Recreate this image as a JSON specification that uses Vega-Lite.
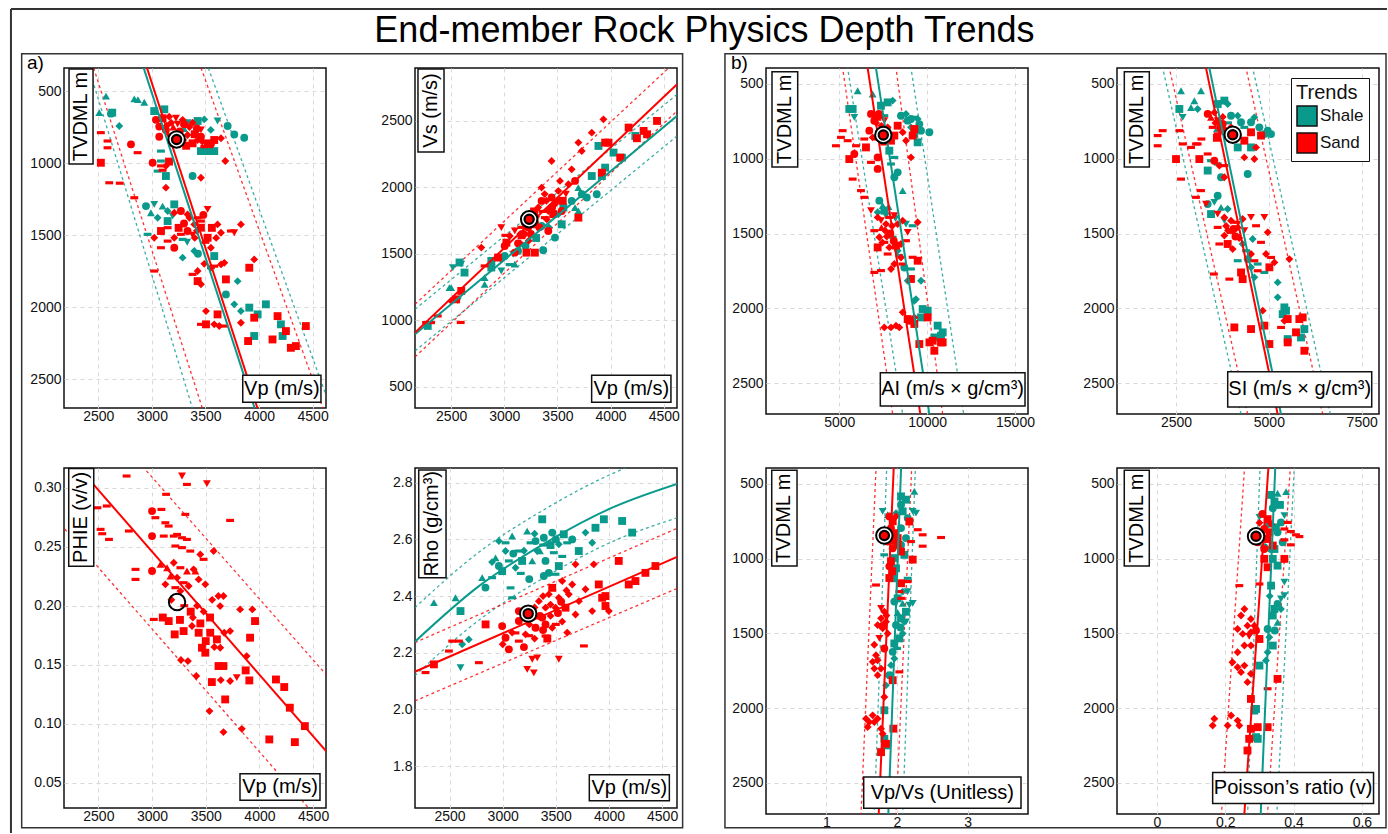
{
"$schema":"https://vega.github.io/schema/vega-lite/v6.json",
"background":"white",
"padding":{"left":9,"top":7,"right":0,"bottom":0},
"columns":4,
"spacing":{"row":54,"column":89},
"bounds":"flush",
"align":"all",
"resolve":{"scale":{"color":"independent","shape":"independent","stroke":"independent"},"legend":{"color":"independent","shape":"independent","stroke":"independent"}},
"config":{"font":"Liberation Sans","view":{"stroke":"#111","strokeWidth":1.5},
"axis":{"grid":true,"gridColor":"#d8d8d8","gridDash":[4,4],"gridWidth":1,"domain":false,"ticks":false,"labelFontSize":14,"labelColor":"#111","labelPadding":3,"labelFlush":false,"labelFont":"Liberation Sans","title":null},
"axisX":{"labelPadding":1},
"text":{"font":"Liberation Sans"}},
"datasets":{
"p1":[
{"x":2572,"y":535,"t":"Shale","w":3},{"x":2836,"y":555,"t":"Shale","w":3},{"x":2929,"y":578,"t":"Shale","w":3},{"x":2870,"y":560,"t":"Shale","w":3},{"x":2618,"y":657,"t":"Shale","w":2},{"x":2630,"y":650,"t":"Shale","w":1},{"x":2509,"y":650,"t":"Shale","w":3},{"x":2696,"y":743,"t":"Shale","w":5},{"x":3022,"y":639,"t":"Shale","w":1},{"x":3116,"y":627,"t":"Shale","w":1},{"x":3333,"y":720,"t":"Shale","w":4},{"x":3427,"y":708,"t":"Shale","w":1},{"x":3489,"y":697,"t":"Shale","w":5},{"x":3613,"y":708,"t":"Shale","w":4},{"x":3707,"y":743,"t":"Shale","w":2},{"x":3769,"y":801,"t":"Shale","w":2},{"x":3862,"y":824,"t":"Shale","w":2},{"x":3458,"y":917,"t":"Shale","w":1},{"x":3520,"y":917,"t":"Shale","w":1},{"x":3582,"y":917,"t":"Shale","w":1},{"x":3085,"y":917,"t":"Shale","w":6},{"x":3085,"y":986,"t":"Shale","w":6},{"x":3054,"y":1056,"t":"Shale","w":6},{"x":3131,"y":1090,"t":"Shale","w":1},{"x":3380,"y":1090,"t":"Shale","w":2},{"x":2945,"y":1299,"t":"Shale","w":2},{"x":3022,"y":1287,"t":"Shale","w":4},{"x":3100,"y":1299,"t":"Shale","w":3},{"x":3147,"y":1333,"t":"Shale","w":5},{"x":3209,"y":1287,"t":"Shale","w":1},{"x":3147,"y":1403,"t":"Shale","w":1},{"x":2991,"y":1345,"t":"Shale","w":3},{"x":3054,"y":1380,"t":"Shale","w":5},{"x":3194,"y":1368,"t":"Shale","w":4},{"x":2960,"y":1495,"t":"Shale","w":6},{"x":3287,"y":1530,"t":"Shale","w":6},{"x":3330,"y":1550,"t":"Shale","w":4},{"x":3396,"y":1611,"t":"Shale","w":5},{"x":3430,"y":1630,"t":"Shale","w":2},{"x":3287,"y":1657,"t":"Shale","w":5},{"x":3582,"y":1646,"t":"Shale","w":1},{"x":3551,"y":1727,"t":"Shale","w":6},{"x":3800,"y":1820,"t":"Shale","w":5},{"x":3691,"y":1912,"t":"Shale","w":2},{"x":3769,"y":1981,"t":"Shale","w":5},{"x":3831,"y":2028,"t":"Shale","w":5},{"x":3909,"y":2004,"t":"Shale","w":1},{"x":4204,"y":2120,"t":"Shale","w":1},{"x":4220,"y":2201,"t":"Shale","w":1},{"x":3955,"y":2201,"t":"Shale","w":1},{"x":4064,"y":1981,"t":"Shale","w":1},{"x":3987,"y":2051,"t":"Shale","w":1},{"x":3400,"y":800,"t":"Shale","w":2},{"x":3300,"y":760,"t":"Shale","w":3},{"x":3550,"y":770,"t":"Shale","w":5},
{"x":2524,"y":789,"t":"Sand","w":6},{"x":2586,"y":847,"t":"Sand","w":6},{"x":2586,"y":894,"t":"Sand","w":6},{"x":2524,"y":998,"t":"Sand","w":1},{"x":2602,"y":1137,"t":"Sand","w":6},{"x":2805,"y":870,"t":"Sand","w":2},{"x":2867,"y":928,"t":"Sand","w":6},{"x":3007,"y":998,"t":"Sand","w":2},{"x":3085,"y":1020,"t":"Sand","w":6},{"x":3100,"y":1050,"t":"Sand","w":6},{"x":3131,"y":1020,"t":"Sand","w":5},{"x":3160,"y":990,"t":"Sand","w":1},{"x":3038,"y":700,"t":"Sand","w":2},{"x":3069,"y":747,"t":"Sand","w":2},{"x":3100,"y":689,"t":"Sand","w":1},{"x":3162,"y":678,"t":"Sand","w":5},{"x":3225,"y":689,"t":"Sand","w":4},{"x":3287,"y":700,"t":"Sand","w":5},{"x":3131,"y":770,"t":"Sand","w":2},{"x":3162,"y":817,"t":"Sand","w":4},{"x":3194,"y":863,"t":"Sand","w":2},{"x":3287,"y":840,"t":"Sand","w":6},{"x":3333,"y":805,"t":"Sand","w":5},{"x":3380,"y":863,"t":"Sand","w":1},{"x":3427,"y":840,"t":"Sand","w":5},{"x":3458,"y":817,"t":"Sand","w":2},{"x":3489,"y":886,"t":"Sand","w":6},{"x":3520,"y":863,"t":"Sand","w":1},{"x":3582,"y":840,"t":"Sand","w":1},{"x":3645,"y":828,"t":"Sand","w":5},{"x":3458,"y":770,"t":"Sand","w":4},{"x":3069,"y":817,"t":"Sand","w":2},{"x":3240,"y":730,"t":"Sand","w":4},{"x":3350,"y":750,"t":"Sand","w":5},{"x":3260,"y":780,"t":"Sand","w":2},{"x":3200,"y":750,"t":"Sand","w":3},{"x":3400,"y":800,"t":"Sand","w":1},{"x":3180,"y":720,"t":"Sand","w":5},{"x":3300,"y":730,"t":"Sand","w":2},{"x":3380,"y":720,"t":"Sand","w":5},{"x":3420,"y":760,"t":"Sand","w":2},{"x":3250,"y":820,"t":"Sand","w":5},{"x":3320,"y":880,"t":"Sand","w":1},{"x":3210,"y":800,"t":"Sand","w":6},{"x":3140,"y":740,"t":"Sand","w":5},{"x":3470,"y":850,"t":"Sand","w":5},{"x":3550,"y":870,"t":"Sand","w":2},{"x":3685,"y":986,"t":"Sand","w":5},{"x":3458,"y":1102,"t":"Sand","w":5},{"x":3131,"y":1171,"t":"Sand","w":5},{"x":2836,"y":1241,"t":"Sand","w":6},{"x":2700,"y":1140,"t":"Sand","w":6},{"x":3209,"y":1345,"t":"Sand","w":5},{"x":3271,"y":1333,"t":"Sand","w":2},{"x":3333,"y":1357,"t":"Sand","w":5},{"x":3427,"y":1380,"t":"Sand","w":6},{"x":3520,"y":1322,"t":"Sand","w":4},{"x":3613,"y":1426,"t":"Sand","w":5},{"x":3458,"y":1449,"t":"Sand","w":1},{"x":3396,"y":1426,"t":"Sand","w":5},{"x":3333,"y":1472,"t":"Sand","w":2},{"x":3271,"y":1495,"t":"Sand","w":6},{"x":3209,"y":1519,"t":"Sand","w":5},{"x":3147,"y":1542,"t":"Sand","w":6},{"x":3085,"y":1472,"t":"Sand","w":1},{"x":3022,"y":1519,"t":"Sand","w":5},{"x":3147,"y":1449,"t":"Sand","w":6},{"x":3520,"y":1519,"t":"Sand","w":1},{"x":3645,"y":1484,"t":"Sand","w":5},{"x":3738,"y":1472,"t":"Sand","w":6},{"x":3769,"y":1484,"t":"Sand","w":4},{"x":3831,"y":1426,"t":"Sand","w":5},{"x":3458,"y":1403,"t":"Sand","w":6},{"x":3551,"y":1588,"t":"Sand","w":5},{"x":3085,"y":1588,"t":"Sand","w":6},{"x":3209,"y":1588,"t":"Sand","w":2},{"x":3380,"y":1500,"t":"Sand","w":4},{"x":3420,"y":1470,"t":"Sand","w":5},{"x":3300,"y":1420,"t":"Sand","w":2},{"x":3560,"y":1450,"t":"Sand","w":1},{"x":3350,"y":1380,"t":"Sand","w":5},{"x":3480,"y":1360,"t":"Sand","w":2},{"x":3400,"y":1520,"t":"Sand","w":5},{"x":3250,"y":1450,"t":"Sand","w":1},{"x":3500,"y":1550,"t":"Sand","w":6},{"x":3600,"y":1520,"t":"Sand","w":5},{"x":3489,"y":1700,"t":"Sand","w":5},{"x":3551,"y":1727,"t":"Sand","w":5},{"x":3582,"y":1716,"t":"Sand","w":6},{"x":3645,"y":1704,"t":"Sand","w":5},{"x":3676,"y":1693,"t":"Sand","w":5},{"x":3427,"y":1750,"t":"Sand","w":5},{"x":3380,"y":1773,"t":"Sand","w":6},{"x":3458,"y":1842,"t":"Sand","w":5},{"x":3427,"y":1820,"t":"Sand","w":1},{"x":3909,"y":1727,"t":"Sand","w":1},{"x":3955,"y":1669,"t":"Sand","w":5},{"x":3691,"y":1808,"t":"Sand","w":1},{"x":3022,"y":1750,"t":"Sand","w":6},{"x":3505,"y":2028,"t":"Sand","w":5},{"x":3613,"y":2051,"t":"Sand","w":1},{"x":3458,"y":2120,"t":"Sand","w":6},{"x":3505,"y":2120,"t":"Sand","w":1},{"x":3582,"y":2120,"t":"Sand","w":5},{"x":3629,"y":2132,"t":"Sand","w":5},{"x":3676,"y":2132,"t":"Sand","w":6},{"x":3831,"y":2109,"t":"Sand","w":5},{"x":3955,"y":2074,"t":"Sand","w":1},{"x":4173,"y":2063,"t":"Sand","w":1},{"x":4251,"y":2167,"t":"Sand","w":1},{"x":4437,"y":2132,"t":"Sand","w":1},{"x":4297,"y":2283,"t":"Sand","w":1},{"x":4344,"y":2271,"t":"Sand","w":1},{"x":3898,"y":2236,"t":"Sand","w":1},{"x":4126,"y":2225,"t":"Sand","w":1}],
"l1":[
{"x":2906,"y":300,"t":"Shale","k":"mid"},{"x":4002,"y":2800,"t":"Shale","k":"mid"},{"x":2395,"y":300,"t":"Shale","k":"lo"},{"x":3419,"y":2800,"t":"Shale","k":"lo"},{"x":3508,"y":300,"t":"Shale","k":"hi"},{"x":4716,"y":2800,"t":"Shale","k":"hi"},
{"x":2937,"y":300,"t":"Sand","k":"mid"},{"x":4028,"y":2800,"t":"Sand","k":"mid"},{"x":2440,"y":300,"t":"Sand","k":"lo"},{"x":3513,"y":2800,"t":"Sand","k":"lo"},{"x":3440,"y":300,"t":"Sand","k":"hi"},{"x":4644,"y":2800,"t":"Sand","k":"hi"}],
"p2":[
{"x":2280,"y":959,"t":"Shale","w":1},{"x":2500,"y":1247,"t":"Shale","w":3},{"x":2516,"y":1397,"t":"Shale","w":4},{"x":2595,"y":1423,"t":"Shale","w":4},{"x":2626,"y":1360,"t":"Shale","w":1},{"x":2579,"y":1436,"t":"Shale","w":1},{"x":2484,"y":1247,"t":"Shale","w":3},{"x":2563,"y":1147,"t":"Shale","w":4},{"x":2815,"y":1322,"t":"Shale","w":3},{"x":2878,"y":1448,"t":"Shale","w":1},{"x":2972,"y":1460,"t":"Shale","w":5},{"x":3004,"y":1485,"t":"Shale","w":2},{"x":3083,"y":1498,"t":"Shale","w":4},{"x":3130,"y":1523,"t":"Shale","w":2},{"x":3366,"y":1528,"t":"Shale","w":2},{"x":3477,"y":1623,"t":"Shale","w":2},{"x":3540,"y":1723,"t":"Shale","w":1},{"x":3666,"y":1849,"t":"Shale","w":3},{"x":3729,"y":1949,"t":"Shale","w":2},{"x":3776,"y":1924,"t":"Shale","w":2},{"x":3870,"y":1949,"t":"Shale","w":2},{"x":3918,"y":2086,"t":"Shale","w":1},{"x":3823,"y":2086,"t":"Shale","w":1},{"x":3949,"y":2149,"t":"Shale","w":1},{"x":4028,"y":2262,"t":"Shale","w":1},{"x":4107,"y":2224,"t":"Shale","w":1},{"x":4233,"y":2387,"t":"Shale","w":1},{"x":3886,"y":2312,"t":"Shale","w":1},{"x":3351,"y":1710,"t":"Shale","w":2},{"x":3508,"y":1798,"t":"Shale","w":5},{"x":3634,"y":1899,"t":"Shale","w":2},{"x":3697,"y":1999,"t":"Shale","w":3},{"x":3556,"y":1849,"t":"Shale","w":1},{"x":2972,"y":1372,"t":"Shale","w":4},{"x":3099,"y":1423,"t":"Shale","w":3},{"x":2878,"y":1398,"t":"Shale","w":1},{"x":3697,"y":1824,"t":"Shale","w":3},{"x":2815,"y":1272,"t":"Shale","w":3},{"x":3200,"y":1560,"t":"Shale","w":2},{"x":3300,"y":1620,"t":"Shale","w":1},{"x":3420,"y":1700,"t":"Shale","w":5},{"x":3050,"y":1420,"t":"Shale","w":6},
{"x":2264,"y":984,"t":"Sand","w":6},{"x":2311,"y":984,"t":"Sand","w":6},{"x":2374,"y":1034,"t":"Sand","w":6},{"x":2500,"y":1147,"t":"Sand","w":5},{"x":2547,"y":1159,"t":"Sand","w":1},{"x":2595,"y":1222,"t":"Sand","w":1},{"x":2590,"y":985,"t":"Sand","w":6},{"x":2784,"y":1548,"t":"Sand","w":5},{"x":2815,"y":1410,"t":"Sand","w":6},{"x":2941,"y":1473,"t":"Sand","w":1},{"x":3020,"y":1585,"t":"Sand","w":1},{"x":3052,"y":1635,"t":"Sand","w":5},{"x":3099,"y":1673,"t":"Sand","w":4},{"x":3162,"y":1623,"t":"Sand","w":6},{"x":3193,"y":1723,"t":"Sand","w":5},{"x":3225,"y":1700,"t":"Sand","w":2},{"x":3256,"y":1798,"t":"Sand","w":5},{"x":3288,"y":1723,"t":"Sand","w":1},{"x":3319,"y":1849,"t":"Sand","w":5},{"x":3351,"y":1899,"t":"Sand","w":2},{"x":3382,"y":1773,"t":"Sand","w":6},{"x":3414,"y":1823,"t":"Sand","w":5},{"x":3445,"y":1924,"t":"Sand","w":2},{"x":3477,"y":1874,"t":"Sand","w":5},{"x":3508,"y":1974,"t":"Sand","w":5},{"x":3524,"y":2049,"t":"Sand","w":5},{"x":3540,"y":1823,"t":"Sand","w":2},{"x":3445,"y":2199,"t":"Sand","w":5},{"x":3634,"y":2136,"t":"Sand","w":5},{"x":3666,"y":2049,"t":"Sand","w":2},{"x":3697,"y":2337,"t":"Sand","w":5},{"x":3729,"y":2274,"t":"Sand","w":5},{"x":3823,"y":2412,"t":"Sand","w":5},{"x":3933,"y":2512,"t":"Sand","w":5},{"x":3918,"y":2111,"t":"Sand","w":1},{"x":3949,"y":2337,"t":"Sand","w":1},{"x":3981,"y":2337,"t":"Sand","w":1},{"x":3697,"y":1773,"t":"Sand","w":1},{"x":3209,"y":1510,"t":"Sand","w":1},{"x":3288,"y":1510,"t":"Sand","w":1},{"x":3099,"y":1510,"t":"Sand","w":2},{"x":3004,"y":1560,"t":"Sand","w":2},{"x":4170,"y":2450,"t":"Sand","w":1},{"x":4248,"y":2370,"t":"Sand","w":1},{"x":4311,"y":2425,"t":"Sand","w":1},{"x":4343,"y":2400,"t":"Sand","w":1},{"x":4437,"y":2500,"t":"Sand","w":1},{"x":4091,"y":2224,"t":"Sand","w":1},{"x":3603,"y":2024,"t":"Sand","w":5},{"x":3351,"y":1999,"t":"Sand","w":5},{"x":2972,"y":1698,"t":"Sand","w":4},{"x":3010,"y":1640,"t":"Sand","w":6},{"x":3396,"y":1900,"t":"Sand","w":5},{"x":3414,"y":1673,"t":"Sand","w":2},{"x":3150,"y":1650,"t":"Sand","w":5},{"x":3250,"y":1650,"t":"Sand","w":2},{"x":3300,"y":1760,"t":"Sand","w":4},{"x":3360,"y":1820,"t":"Sand","w":6},{"x":3230,"y":1600,"t":"Sand","w":5},{"x":3130,"y":1580,"t":"Sand","w":2},{"x":3460,"y":1800,"t":"Sand","w":1},{"x":3500,"y":1900,"t":"Sand","w":5},{"x":3580,"y":1950,"t":"Sand","w":4},{"x":3160,"y":1700,"t":"Sand","w":6},{"x":3180,"y":1650,"t":"Sand","w":2},{"x":3250,"y":1720,"t":"Sand","w":5},{"x":3330,"y":1700,"t":"Sand","w":2},{"x":3400,"y":1760,"t":"Sand","w":5},{"x":3280,"y":1820,"t":"Sand","w":1},{"x":3450,"y":1850,"t":"Sand","w":2},{"x":3150,"y":1580,"t":"Sand","w":5},{"x":3380,"y":1950,"t":"Sand","w":5},{"x":3550,"y":1900,"t":"Sand","w":1},{"x":3200,"y":1780,"t":"Sand","w":6}],
"l2":[
{"x":2160,"y":896,"t":"Shale","k":"mid"},{"x":4626,"y":2538,"t":"Shale","k":"mid"},{"x":2160,"y":1084,"t":"Shale","k":"hi"},{"x":4626,"y":2700,"t":"Shale","k":"hi"},{"x":2160,"y":771,"t":"Shale","k":"lo"},{"x":4626,"y":2387,"t":"Shale","k":"lo"},
{"x":2160,"y":909,"t":"Sand","k":"mid"},{"x":4626,"y":2776,"t":"Sand","k":"mid"},{"x":2160,"y":1122,"t":"Sand","k":"hi"},{"x":4626,"y":2957,"t":"Sand","k":"hi"},{"x":2160,"y":726,"t":"Sand","k":"lo"},{"x":4626,"y":2575,"t":"Sand","k":"lo"}],
"p3":[
{"x":2300,"y":0.311,"t":"Sand","w":1},{"x":2491,"y":0.283,"t":"Sand","w":6},{"x":2578,"y":0.2845,"t":"Sand","w":6},{"x":2521,"y":0.2647,"t":"Sand","w":6},{"x":2536,"y":0.261,"t":"Sand","w":6},{"x":2599,"y":0.2562,"t":"Sand","w":6},{"x":2784,"y":0.2633,"t":"Sand","w":6},{"x":2846,"y":0.2308,"t":"Sand","w":6},{"x":2846,"y":0.2223,"t":"Sand","w":6},{"x":2763,"y":0.3099,"t":"Sand","w":6},{"x":3000,"y":0.2802,"t":"Sand","w":2},{"x":3031,"y":0.2746,"t":"Sand","w":6},{"x":3087,"y":0.2816,"t":"Sand","w":6},{"x":3000,"y":0.259,"t":"Sand","w":2},{"x":3109,"y":0.259,"t":"Sand","w":6},{"x":3124,"y":0.2703,"t":"Sand","w":6},{"x":3155,"y":0.2675,"t":"Sand","w":6},{"x":3202,"y":0.259,"t":"Sand","w":6},{"x":3233,"y":0.2604,"t":"Sand","w":6},{"x":3279,"y":0.2576,"t":"Sand","w":6},{"x":3325,"y":0.2562,"t":"Sand","w":6},{"x":3279,"y":0.3099,"t":"Sand","w":4},{"x":3325,"y":0.3028,"t":"Sand","w":6},{"x":3511,"y":0.3034,"t":"Sand","w":4},{"x":3310,"y":0.2774,"t":"Sand","w":6},{"x":3131,"y":0.2944,"t":"Sand","w":6},{"x":3279,"y":0.2492,"t":"Sand","w":6},{"x":3217,"y":0.2506,"t":"Sand","w":6},{"x":3356,"y":0.2463,"t":"Sand","w":6},{"x":3449,"y":0.2435,"t":"Sand","w":5},{"x":3480,"y":0.2393,"t":"Sand","w":6},{"x":3573,"y":0.2463,"t":"Sand","w":5},{"x":3727,"y":0.2723,"t":"Sand","w":6},{"x":3000,"y":0.2294,"t":"Sand","w":2},{"x":3078,"y":0.235,"t":"Sand","w":3},{"x":3140,"y":0.2322,"t":"Sand","w":3},{"x":3202,"y":0.2364,"t":"Sand","w":5},{"x":3264,"y":0.2322,"t":"Sand","w":6},{"x":3325,"y":0.2294,"t":"Sand","w":3},{"x":3387,"y":0.2308,"t":"Sand","w":5},{"x":3171,"y":0.2251,"t":"Sand","w":3},{"x":3233,"y":0.2237,"t":"Sand","w":5},{"x":3295,"y":0.2195,"t":"Sand","w":6},{"x":3341,"y":0.2167,"t":"Sand","w":5},{"x":3403,"y":0.2294,"t":"Sand","w":3},{"x":3434,"y":0.2223,"t":"Sand","w":5},{"x":3496,"y":0.2181,"t":"Sand","w":5},{"x":3124,"y":0.2181,"t":"Sand","w":5},{"x":3217,"y":0.2153,"t":"Sand","w":6},{"x":3264,"y":0.2124,"t":"Sand","w":5},
{"x":3016,"y":0.1884,"t":"Sand","w":6},{"x":3155,"y":0.187,"t":"Sand","w":1},{"x":3211,"y":0.1757,"t":"Sand","w":1},{"x":3294,"y":0.1785,"t":"Sand","w":1},{"x":3372,"y":0.1828,"t":"Sand","w":5},{"x":3434,"y":0.1771,"t":"Sand","w":1},{"x":3465,"y":0.1644,"t":"Sand","w":1},{"x":3496,"y":0.1602,"t":"Sand","w":1},{"x":3542,"y":0.1771,"t":"Sand","w":1},{"x":3604,"y":0.1715,"t":"Sand","w":1},{"x":3635,"y":0.1644,"t":"Sand","w":5},{"x":3672,"y":0.1771,"t":"Sand","w":5},{"x":3727,"y":0.1785,"t":"Sand","w":5},{"x":3634,"y":0.1997,"t":"Sand","w":5},{"x":3618,"y":0.2082,"t":"Sand","w":5},{"x":3665,"y":0.2082,"t":"Sand","w":5},{"x":3820,"y":0.1969,"t":"Sand","w":5},{"x":3934,"y":0.1969,"t":"Sand","w":5},{"x":3959,"y":0.187,"t":"Sand","w":1},{"x":3913,"y":0.1729,"t":"Sand","w":1},{"x":3881,"y":0.1573,"t":"Sand","w":5},{"x":3872,"y":0.1452,"t":"Sand","w":1},{"x":3906,"y":0.1367,"t":"Sand","w":1},{"x":3789,"y":0.139,"t":"Sand","w":4},{"x":3727,"y":0.1362,"t":"Sand","w":5},{"x":3619,"y":0.1489,"t":"Sand","w":1},{"x":3665,"y":0.1489,"t":"Sand","w":1},{"x":3557,"y":0.1353,"t":"Sand","w":1},{"x":3640,"y":0.137,"t":"Sand","w":5},{"x":3535,"y":0.1107,"t":"Sand","w":5},{"x":3681,"y":0.1206,"t":"Sand","w":1},{"x":3665,"y":0.0929,"t":"Sand","w":5},{"x":3836,"y":0.0957,"t":"Sand","w":5},{"x":4092,"y":0.0867,"t":"Sand","w":1},{"x":4330,"y":0.0844,"t":"Sand","w":1},{"x":4154,"y":0.1375,"t":"Sand","w":1},{"x":4231,"y":0.1311,"t":"Sand","w":1},{"x":4283,"y":0.1136,"t":"Sand","w":1},{"x":4423,"y":0.098,"t":"Sand","w":1},{"x":3412,"y":0.1404,"t":"Sand","w":5},{"x":3334,"y":0.1531,"t":"Sand","w":5},{"x":3269,"y":0.154,"t":"Sand","w":5},{"x":3360,"y":0.195,"t":"Sand","w":1},{"x":3420,"y":0.2,"t":"Sand","w":5},{"x":3480,"y":0.195,"t":"Sand","w":5},{"x":3540,"y":0.19,"t":"Sand","w":1},{"x":3300,"y":0.2,"t":"Sand","w":6},{"x":3180,"y":0.205,"t":"Sand","w":5},{"x":3380,"y":0.19,"t":"Sand","w":5},{"x":3450,"y":0.185,"t":"Sand","w":1},{"x":3500,"y":0.17,"t":"Sand","w":1},{"x":3580,"y":0.165,"t":"Sand","w":5},{"x":3100,"y":0.19,"t":"Sand","w":1},{"x":3560,"y":0.205,"t":"Sand","w":5},{"x":3260,"y":0.188,"t":"Sand","w":1}],
"l3":[
{"x":2200,"y":0.3293,"t":"Sand","k":"mid"},{"x":4650,"y":0.0738,"t":"Sand","k":"mid"},{"x":2800,"y":0.3295,"t":"Sand","k":"hi"},{"x":4650,"y":0.1387,"t":"Sand","k":"hi"},{"x":2150,"y":0.2688,"t":"Sand","k":"lo"},{"x":4650,"y":0.0086,"t":"Sand","k":"lo"}],
"p4":[
{"x":2353,"y":2.377,"t":"Shale","w":3},{"x":2556,"y":2.394,"t":"Shale","w":3},{"x":2603,"y":2.347,"t":"Shale","w":1},{"x":2603,"y":2.147,"t":"Shale","w":4},{"x":2619,"y":2.23,"t":"Shale","w":5},{"x":2681,"y":2.247,"t":"Shale","w":5},{"x":2807,"y":2.465,"t":"Shale","w":3},{"x":2838,"y":2.43,"t":"Shale","w":2},{"x":2901,"y":2.465,"t":"Shale","w":6},{"x":2933,"y":2.535,"t":"Shale","w":3},{"x":2964,"y":2.506,"t":"Shale","w":2},{"x":2995,"y":2.488,"t":"Shale","w":1},{"x":3027,"y":2.559,"t":"Shale","w":5},{"x":3058,"y":2.524,"t":"Shale","w":6},{"x":3074,"y":2.429,"t":"Shale","w":6},{"x":3121,"y":2.5,"t":"Shale","w":5},{"x":3152,"y":2.559,"t":"Shale","w":6},{"x":3183,"y":2.524,"t":"Shale","w":1},{"x":3230,"y":2.629,"t":"Shale","w":3},{"x":3262,"y":2.588,"t":"Shale","w":6},{"x":3278,"y":2.524,"t":"Shale","w":3},{"x":3309,"y":2.594,"t":"Shale","w":2},{"x":3325,"y":2.559,"t":"Shale","w":5},{"x":3372,"y":2.671,"t":"Shale","w":1},{"x":3387,"y":2.606,"t":"Shale","w":2},{"x":3403,"y":2.524,"t":"Shale","w":2},{"x":3434,"y":2.482,"t":"Shale","w":2},{"x":3466,"y":2.624,"t":"Shale","w":2},{"x":3481,"y":2.553,"t":"Shale","w":6},{"x":3528,"y":2.583,"t":"Shale","w":5},{"x":3528,"y":2.506,"t":"Shale","w":1},{"x":3575,"y":2.618,"t":"Shale","w":1},{"x":3607,"y":2.588,"t":"Shale","w":6},{"x":3654,"y":2.6,"t":"Shale","w":2},{"x":3716,"y":2.559,"t":"Shale","w":1},{"x":3779,"y":2.624,"t":"Shale","w":5},{"x":3842,"y":2.588,"t":"Shale","w":5},{"x":3873,"y":2.641,"t":"Shale","w":1},{"x":3952,"y":2.671,"t":"Shale","w":1},{"x":4124,"y":2.665,"t":"Shale","w":1},{"x":4218,"y":2.624,"t":"Shale","w":1},{"x":3089,"y":2.394,"t":"Shale","w":6},{"x":3387,"y":2.471,"t":"Shale","w":2},{"x":3497,"y":2.477,"t":"Shale","w":6},{"x":2964,"y":2.594,"t":"Shale","w":5},{"x":3027,"y":2.588,"t":"Shale","w":6},{"x":3089,"y":2.612,"t":"Shale","w":3},{"x":3200,"y":2.56,"t":"Shale","w":5},{"x":3350,"y":2.56,"t":"Shale","w":3},{"x":3450,"y":2.58,"t":"Shale","w":1},{"x":3560,"y":2.54,"t":"Shale","w":6},{"x":2900,"y":2.52,"t":"Shale","w":5},{"x":3170,"y":2.48,"t":"Shale","w":6},{"x":3250,"y":2.46,"t":"Shale","w":2},{"x":3100,"y":2.55,"t":"Shale","w":2},{"x":3300,"y":2.62,"t":"Shale","w":5},{"x":3500,"y":2.6,"t":"Shale","w":2},{"x":3380,"y":2.58,"t":"Shale","w":6},
{"x":2274,"y":2.13,"t":"Sand","w":6},{"x":2353,"y":2.159,"t":"Sand","w":1},{"x":2494,"y":2.206,"t":"Sand","w":6},{"x":2525,"y":2.241,"t":"Sand","w":6},{"x":2588,"y":2.241,"t":"Sand","w":6},{"x":2776,"y":2.165,"t":"Sand","w":6},{"x":2839,"y":2.3,"t":"Sand","w":1},{"x":2995,"y":2.294,"t":"Sand","w":2},{"x":3027,"y":2.253,"t":"Sand","w":2},{"x":3089,"y":2.271,"t":"Sand","w":5},{"x":3152,"y":2.312,"t":"Sand","w":2},{"x":3215,"y":2.265,"t":"Sand","w":5},{"x":3262,"y":2.347,"t":"Sand","w":1},{"x":3309,"y":2.288,"t":"Sand","w":2},{"x":3340,"y":2.382,"t":"Sand","w":5},{"x":3372,"y":2.324,"t":"Sand","w":2},{"x":3403,"y":2.359,"t":"Sand","w":5},{"x":3434,"y":2.406,"t":"Sand","w":5},{"x":3466,"y":2.429,"t":"Sand","w":1},{"x":3497,"y":2.359,"t":"Sand","w":5},{"x":3528,"y":2.394,"t":"Sand","w":5},{"x":3560,"y":2.453,"t":"Sand","w":5},{"x":3591,"y":2.359,"t":"Sand","w":1},{"x":3622,"y":2.406,"t":"Sand","w":5},{"x":3654,"y":2.441,"t":"Sand","w":5},{"x":3685,"y":2.512,"t":"Sand","w":5},{"x":3717,"y":2.382,"t":"Sand","w":5},{"x":3779,"y":2.424,"t":"Sand","w":5},{"x":3857,"y":2.512,"t":"Sand","w":5},{"x":3904,"y":2.441,"t":"Sand","w":1},{"x":3936,"y":2.394,"t":"Sand","w":1},{"x":3967,"y":2.365,"t":"Sand","w":1},{"x":3999,"y":2.347,"t":"Sand","w":5},{"x":3842,"y":2.347,"t":"Sand","w":5},{"x":3764,"y":2.224,"t":"Sand","w":6},{"x":3607,"y":2.271,"t":"Sand","w":5},{"x":3403,"y":2.259,"t":"Sand","w":6},{"x":3278,"y":2.177,"t":"Sand","w":4},{"x":3325,"y":2.182,"t":"Sand","w":4},{"x":3231,"y":2.141,"t":"Sand","w":4},{"x":3293,"y":2.129,"t":"Sand","w":4},{"x":3528,"y":2.177,"t":"Sand","w":4},{"x":3685,"y":2.335,"t":"Sand","w":5},{"x":4092,"y":2.524,"t":"Sand","w":1},{"x":4186,"y":2.441,"t":"Sand","w":1},{"x":4249,"y":2.453,"t":"Sand","w":1},{"x":4343,"y":2.482,"t":"Sand","w":1},{"x":4437,"y":2.506,"t":"Sand","w":1},{"x":3967,"y":2.4,"t":"Sand","w":1},{"x":3403,"y":2.3,"t":"Sand","w":2},{"x":3466,"y":2.288,"t":"Sand","w":5},{"x":3152,"y":2.241,"t":"Sand","w":6},{"x":3058,"y":2.212,"t":"Sand","w":2},{"x":3152,"y":2.347,"t":"Sand","w":2},{"x":3250,"y":2.3,"t":"Sand","w":5},{"x":3350,"y":2.33,"t":"Sand","w":2},{"x":3450,"y":2.33,"t":"Sand","w":5},{"x":3500,"y":2.3,"t":"Sand","w":6},{"x":3300,"y":2.25,"t":"Sand","w":5},{"x":3200,"y":2.22,"t":"Sand","w":2},{"x":3550,"y":2.38,"t":"Sand","w":2},{"x":3380,"y":2.4,"t":"Sand","w":5},{"x":3120,"y":2.27,"t":"Sand","w":6},{"x":3000,"y":2.23,"t":"Sand","w":5},{"x":3300,"y":2.36,"t":"Sand","w":5},{"x":3380,"y":2.28,"t":"Sand","w":2},{"x":3450,"y":2.37,"t":"Sand","w":5},{"x":3520,"y":2.34,"t":"Sand","w":2},{"x":3600,"y":2.42,"t":"Sand","w":5},{"x":3250,"y":2.26,"t":"Sand","w":6},{"x":3420,"y":2.25,"t":"Sand","w":1},{"x":3560,"y":2.31,"t":"Sand","w":5}],
"l4":[
{"x":2174,"y":2.239,"t":"Shale","k":"mid"},{"x":2776,"y":2.435,"t":"Shale","k":"mid"},{"x":3403,"y":2.588,"t":"Shale","k":"mid"},{"x":4030,"y":2.712,"t":"Shale","k":"mid"},{"x":4641,"y":2.796,"t":"Shale","k":"mid"},
{"x":2174,"y":2.359,"t":"Shale","k":"hi"},{"x":2776,"y":2.555,"t":"Shale","k":"hi"},{"x":3403,"y":2.708,"t":"Shale","k":"hi"},{"x":4030,"y":2.832,"t":"Shale","k":"hi"},{"x":4641,"y":2.916,"t":"Shale","k":"hi"},
{"x":2174,"y":2.119,"t":"Shale","k":"lo"},{"x":2776,"y":2.315,"t":"Shale","k":"lo"},{"x":3403,"y":2.468,"t":"Shale","k":"lo"},{"x":4030,"y":2.592,"t":"Shale","k":"lo"},{"x":4641,"y":2.676,"t":"Shale","k":"lo"},
{"x":2174,"y":2.133,"t":"Sand","k":"mid"},{"x":4641,"y":2.538,"t":"Sand","k":"mid"},{"x":2174,"y":2.236,"t":"Sand","k":"hi"},{"x":4641,"y":2.639,"t":"Sand","k":"hi"},{"x":2174,"y":2.03,"t":"Sand","k":"lo"},{"x":4641,"y":2.427,"t":"Sand","k":"lo"}],
"p5":[
{"x":6044,"y":545,"t":"Shale","w":3},{"x":6898,"y":567,"t":"Shale","w":3},{"x":5760,"y":667,"t":"Shale","w":1},{"x":5855,"y":723,"t":"Shale","w":4},{"x":5570,"y":667,"t":"Shale","w":1},{"x":7373,"y":645,"t":"Shale","w":1},{"x":7752,"y":623,"t":"Shale","w":1},{"x":8037,"y":611,"t":"Shale","w":5},{"x":7563,"y":712,"t":"Shale","w":6},{"x":8511,"y":712,"t":"Shale","w":2},{"x":8796,"y":700,"t":"Shale","w":5},{"x":8891,"y":745,"t":"Shale","w":2},{"x":9080,"y":734,"t":"Shale","w":2},{"x":9460,"y":734,"t":"Shale","w":5},{"x":9555,"y":768,"t":"Shale","w":2},{"x":9650,"y":812,"t":"Shale","w":2},{"x":9270,"y":723,"t":"Shale","w":6},{"x":10125,"y":823,"t":"Shale","w":2},{"x":9080,"y":790,"t":"Shale","w":5},{"x":9270,"y":835,"t":"Shale","w":1},{"x":9460,"y":890,"t":"Shale","w":1},{"x":8132,"y":991,"t":"Shale","w":6},{"x":7942,"y":1035,"t":"Shale","w":6},{"x":7847,"y":946,"t":"Shale","w":1},{"x":8322,"y":1091,"t":"Shale","w":2},{"x":7278,"y":1280,"t":"Shale","w":2},{"x":7468,"y":1314,"t":"Shale","w":3},{"x":7563,"y":1347,"t":"Shale","w":1},{"x":7183,"y":1358,"t":"Shale","w":5},{"x":7657,"y":1381,"t":"Shale","w":4},{"x":8037,"y":1525,"t":"Shale","w":6},{"x":8322,"y":1615,"t":"Shale","w":5},{"x":8416,"y":1648,"t":"Shale","w":6},{"x":8701,"y":1727,"t":"Shale","w":2},{"x":8891,"y":1816,"t":"Shale","w":5},{"x":9080,"y":1737,"t":"Shale","w":6},{"x":9650,"y":1816,"t":"Shale","w":5},{"x":9270,"y":1950,"t":"Shale","w":5},{"x":9365,"y":1939,"t":"Shale","w":5},{"x":9650,"y":2061,"t":"Shale","w":1},{"x":9745,"y":2005,"t":"Shale","w":1},{"x":10030,"y":2016,"t":"Shale","w":1},{"x":10599,"y":2116,"t":"Shale","w":1},{"x":10789,"y":2183,"t":"Shale","w":1},{"x":10884,"y":2161,"t":"Shale","w":1},{"x":10409,"y":2195,"t":"Shale","w":1},{"x":8132,"y":1124,"t":"Shale","w":2},{"x":8606,"y":1213,"t":"Shale","w":3},{"x":8796,"y":1437,"t":"Shale","w":4},{"x":9175,"y":1448,"t":"Shale","w":6},{"x":7800,"y":1320,"t":"Shale","w":3},{"x":8200,"y":1400,"t":"Shale","w":4},
{"x":6803,"y":700,"t":"Sand","w":2},{"x":6993,"y":745,"t":"Sand","w":2},{"x":7183,"y":723,"t":"Sand","w":3},{"x":7373,"y":712,"t":"Sand","w":5},{"x":7563,"y":745,"t":"Sand","w":4},{"x":6708,"y":812,"t":"Sand","w":2},{"x":6898,"y":857,"t":"Sand","w":5},{"x":7183,"y":868,"t":"Sand","w":6},{"x":7752,"y":790,"t":"Sand","w":5},{"x":7942,"y":879,"t":"Sand","w":1},{"x":7562,"y":901,"t":"Sand","w":6},{"x":8132,"y":845,"t":"Sand","w":1},{"x":8322,"y":779,"t":"Sand","w":1},{"x":8606,"y":823,"t":"Sand","w":5},{"x":8796,"y":879,"t":"Sand","w":5},{"x":9175,"y":845,"t":"Sand","w":1},{"x":9270,"y":801,"t":"Sand","w":1},{"x":7100,"y":760,"t":"Sand","w":5},{"x":7300,"y":820,"t":"Sand","w":2},{"x":7450,"y":880,"t":"Sand","w":5},{"x":7600,"y":850,"t":"Sand","w":1},{"x":7250,"y":700,"t":"Sand","w":2},{"x":5190,"y":812,"t":"Sand","w":6},{"x":4810,"y":913,"t":"Sand","w":6},{"x":5095,"y":857,"t":"Sand","w":6},{"x":5475,"y":879,"t":"Sand","w":6},{"x":5855,"y":968,"t":"Sand","w":2},{"x":5950,"y":913,"t":"Sand","w":6},{"x":6518,"y":924,"t":"Sand","w":1},{"x":6423,"y":868,"t":"Sand","w":6},{"x":5570,"y":1002,"t":"Sand","w":1},{"x":7183,"y":991,"t":"Sand","w":2},{"x":6803,"y":1024,"t":"Sand","w":6},{"x":7183,"y":1068,"t":"Sand","w":2},{"x":9080,"y":991,"t":"Sand","w":5},{"x":5760,"y":1136,"t":"Sand","w":6},{"x":6234,"y":1213,"t":"Sand","w":6},{"x":6423,"y":1258,"t":"Sand","w":6},{"x":6803,"y":1347,"t":"Sand","w":4},{"x":7183,"y":1392,"t":"Sand","w":5},{"x":7373,"y":1414,"t":"Sand","w":4},{"x":7657,"y":1437,"t":"Sand","w":5},{"x":7847,"y":1392,"t":"Sand","w":6},{"x":8132,"y":1381,"t":"Sand","w":4},{"x":8322,"y":1437,"t":"Sand","w":5},{"x":8606,"y":1414,"t":"Sand","w":5},{"x":8891,"y":1492,"t":"Sand","w":4},{"x":9460,"y":1425,"t":"Sand","w":5},{"x":6993,"y":1481,"t":"Sand","w":6},{"x":7278,"y":1525,"t":"Sand","w":5},{"x":7562,"y":1559,"t":"Sand","w":6},{"x":7847,"y":1593,"t":"Sand","w":5},{"x":8227,"y":1581,"t":"Sand","w":1},{"x":8511,"y":1570,"t":"Sand","w":5},{"x":8796,"y":1548,"t":"Sand","w":6},{"x":7183,"y":1593,"t":"Sand","w":1},{"x":7752,"y":1637,"t":"Sand","w":6},{"x":7942,"y":1737,"t":"Sand","w":5},{"x":8132,"y":1704,"t":"Sand","w":5},{"x":7373,"y":1748,"t":"Sand","w":6},{"x":8511,"y":1660,"t":"Sand","w":5},{"x":8606,"y":1704,"t":"Sand","w":6},{"x":9175,"y":1659,"t":"Sand","w":6},{"x":9460,"y":1682,"t":"Sand","w":1},{"x":9080,"y":1804,"t":"Sand","w":1},{"x":6993,"y":1760,"t":"Sand","w":6},{"x":8606,"y":2027,"t":"Sand","w":5},{"x":8891,"y":2072,"t":"Sand","w":1},{"x":9270,"y":2061,"t":"Sand","w":5},{"x":8227,"y":2116,"t":"Sand","w":5},{"x":8416,"y":2128,"t":"Sand","w":5},{"x":7562,"y":2128,"t":"Sand","w":5},{"x":7942,"y":2128,"t":"Sand","w":5},{"x":9080,"y":2083,"t":"Sand","w":1},{"x":9270,"y":2105,"t":"Sand","w":1},{"x":9555,"y":2239,"t":"Sand","w":1},{"x":10030,"y":2061,"t":"Sand","w":1},{"x":10789,"y":2228,"t":"Sand","w":1},{"x":10884,"y":2228,"t":"Sand","w":1},{"x":10409,"y":2284,"t":"Sand","w":1},{"x":10314,"y":2217,"t":"Sand","w":1},{"x":10130,"y":2228,"t":"Sand","w":1},{"x":7600,"y":1480,"t":"Sand","w":5},{"x":7900,"y":1500,"t":"Sand","w":2},{"x":7400,"y":1460,"t":"Sand","w":3},{"x":8000,"y":1450,"t":"Sand","w":5},{"x":7700,"y":1520,"t":"Sand","w":5},{"x":8100,"y":1550,"t":"Sand","w":2},{"x":7450,"y":1560,"t":"Sand","w":5},{"x":7700,"y":800,"t":"Sand","w":2},{"x":7400,"y":780,"t":"Sand","w":5}],
"l5":[
{"x":6966,"y":300,"t":"Shale","k":"mid"},{"x":10246,"y":2800,"t":"Shale","k":"mid"},{"x":5349,"y":300,"t":"Shale","k":"lo"},{"x":8730,"y":2800,"t":"Shale","k":"lo"},{"x":8961,"y":300,"t":"Shale","k":"hi"},{"x":12199,"y":2800,"t":"Shale","k":"hi"},
{"x":6493,"y":300,"t":"Sand","k":"mid"},{"x":9731,"y":2800,"t":"Sand","k":"mid"},{"x":5076,"y":300,"t":"Sand","k":"lo"},{"x":8150,"y":2800,"t":"Sand","k":"lo"},{"x":8120,"y":300,"t":"Sand","k":"hi"},{"x":10990,"y":2800,"t":"Sand","k":"hi"}],
"p6":[
{"x":2635,"y":545,"t":"Shale","w":3},{"x":3173,"y":545,"t":"Shale","w":3},{"x":2590,"y":667,"t":"Shale","w":1},{"x":2680,"y":723,"t":"Shale","w":4},{"x":3083,"y":667,"t":"Shale","w":5},{"x":2904,"y":657,"t":"Shale","w":3},{"x":2994,"y":612,"t":"Shale","w":3},{"x":3622,"y":634,"t":"Shale","w":1},{"x":3802,"y":611,"t":"Shale","w":1},{"x":3892,"y":634,"t":"Shale","w":5},{"x":3981,"y":712,"t":"Shale","w":2},{"x":4161,"y":712,"t":"Shale","w":5},{"x":4251,"y":756,"t":"Shale","w":2},{"x":4340,"y":790,"t":"Shale","w":6},{"x":4520,"y":756,"t":"Shale","w":2},{"x":4610,"y":723,"t":"Shale","w":5},{"x":4744,"y":790,"t":"Shale","w":2},{"x":4879,"y":835,"t":"Shale","w":2},{"x":4969,"y":812,"t":"Shale","w":2},{"x":5059,"y":835,"t":"Shale","w":2},{"x":4520,"y":924,"t":"Shale","w":1},{"x":4161,"y":924,"t":"Shale","w":1},{"x":3443,"y":1013,"t":"Shale","w":6},{"x":3622,"y":1035,"t":"Shale","w":6},{"x":3353,"y":1079,"t":"Shale","w":1},{"x":3712,"y":1124,"t":"Shale","w":2},{"x":4430,"y":1102,"t":"Shale","w":2},{"x":3353,"y":1303,"t":"Shale","w":2},{"x":3532,"y":1292,"t":"Shale","w":4},{"x":3712,"y":1325,"t":"Shale","w":3},{"x":3443,"y":1370,"t":"Shale","w":1},{"x":3892,"y":1336,"t":"Shale","w":5},{"x":3802,"y":1414,"t":"Shale","w":4},{"x":4116,"y":1514,"t":"Shale","w":6},{"x":4295,"y":1570,"t":"Shale","w":5},{"x":4385,"y":1615,"t":"Shale","w":6},{"x":4430,"y":1671,"t":"Shale","w":2},{"x":4520,"y":1726,"t":"Shale","w":5},{"x":4699,"y":1704,"t":"Shale","w":6},{"x":4610,"y":1793,"t":"Shale","w":5},{"x":4879,"y":1760,"t":"Shale","w":6},{"x":5238,"y":1827,"t":"Shale","w":5},{"x":5238,"y":1927,"t":"Shale","w":5},{"x":5418,"y":1994,"t":"Shale","w":1},{"x":5462,"y":2016,"t":"Shale","w":1},{"x":5373,"y":2039,"t":"Shale","w":1},{"x":5956,"y":2139,"t":"Shale","w":1},{"x":5507,"y":2206,"t":"Shale","w":1},{"x":5866,"y":2195,"t":"Shale","w":1},{"x":3622,"y":1247,"t":"Shale","w":2},{"x":4161,"y":1682,"t":"Shale","w":6},{"x":4565,"y":1537,"t":"Shale","w":5},{"x":3600,"y":800,"t":"Shale","w":3},{"x":3900,"y":760,"t":"Shale","w":6},
{"x":3353,"y":700,"t":"Sand","w":2},{"x":3443,"y":723,"t":"Sand","w":3},{"x":3532,"y":690,"t":"Sand","w":5},{"x":3622,"y":745,"t":"Sand","w":4},{"x":3757,"y":767,"t":"Sand","w":2},{"x":3488,"y":790,"t":"Sand","w":6},{"x":3622,"y":834,"t":"Sand","w":6},{"x":3802,"y":812,"t":"Sand","w":2},{"x":3981,"y":790,"t":"Sand","w":5},{"x":4026,"y":868,"t":"Sand","w":1},{"x":4161,"y":834,"t":"Sand","w":5},{"x":4340,"y":879,"t":"Sand","w":1},{"x":4520,"y":823,"t":"Sand","w":1},{"x":4789,"y":845,"t":"Sand","w":1},{"x":4655,"y":924,"t":"Sand","w":5},{"x":3560,"y":760,"t":"Sand","w":5},{"x":3700,"y":800,"t":"Sand","w":2},{"x":3760,"y":720,"t":"Sand","w":5},{"x":3600,"y":860,"t":"Sand","w":1},{"x":3183,"y":868,"t":"Sand","w":6},{"x":3038,"y":901,"t":"Sand","w":6},{"x":2904,"y":924,"t":"Sand","w":6},{"x":3083,"y":901,"t":"Sand","w":6},{"x":2680,"y":901,"t":"Sand","w":6},{"x":2590,"y":812,"t":"Sand","w":6},{"x":2141,"y":812,"t":"Sand","w":6},{"x":2006,"y":845,"t":"Sand","w":6},{"x":2006,"y":913,"t":"Sand","w":6},{"x":2500,"y":1002,"t":"Sand","w":1},{"x":3128,"y":1002,"t":"Sand","w":1},{"x":3353,"y":968,"t":"Sand","w":6},{"x":3532,"y":1013,"t":"Sand","w":2},{"x":3667,"y":1046,"t":"Sand","w":5},{"x":3802,"y":1046,"t":"Sand","w":6},{"x":3802,"y":1124,"t":"Sand","w":5},{"x":4340,"y":991,"t":"Sand","w":5},{"x":4610,"y":1002,"t":"Sand","w":5},{"x":2635,"y":1136,"t":"Sand","w":6},{"x":3173,"y":1213,"t":"Sand","w":6},{"x":3038,"y":1258,"t":"Sand","w":6},{"x":3308,"y":1303,"t":"Sand","w":4},{"x":3622,"y":1370,"t":"Sand","w":4},{"x":3802,"y":1392,"t":"Sand","w":5},{"x":3981,"y":1414,"t":"Sand","w":5},{"x":4116,"y":1425,"t":"Sand","w":6},{"x":4295,"y":1403,"t":"Sand","w":5},{"x":4520,"y":1392,"t":"Sand","w":4},{"x":4655,"y":1448,"t":"Sand","w":6},{"x":4879,"y":1392,"t":"Sand","w":4},{"x":4969,"y":1492,"t":"Sand","w":5},{"x":3622,"y":1459,"t":"Sand","w":6},{"x":3802,"y":1514,"t":"Sand","w":5},{"x":3981,"y":1492,"t":"Sand","w":6},{"x":4161,"y":1459,"t":"Sand","w":5},{"x":4340,"y":1481,"t":"Sand","w":4},{"x":3850,"y":1450,"t":"Sand","w":5},{"x":4050,"y":1470,"t":"Sand","w":2},{"x":4200,"y":1530,"t":"Sand","w":5},{"x":3892,"y":1570,"t":"Sand","w":1},{"x":4026,"y":1604,"t":"Sand","w":5},{"x":3667,"y":1570,"t":"Sand","w":6},{"x":4520,"y":1637,"t":"Sand","w":5},{"x":4610,"y":1682,"t":"Sand","w":6},{"x":4789,"y":1559,"t":"Sand","w":6},{"x":4924,"y":1637,"t":"Sand","w":5},{"x":5059,"y":1660,"t":"Sand","w":6},{"x":5149,"y":1693,"t":"Sand","w":5},{"x":5552,"y":1671,"t":"Sand","w":5},{"x":5014,"y":1726,"t":"Sand","w":1},{"x":4699,"y":1749,"t":"Sand","w":6},{"x":4251,"y":1760,"t":"Sand","w":1},{"x":4295,"y":1805,"t":"Sand","w":1},{"x":3520,"y":1771,"t":"Sand","w":6},{"x":3936,"y":1805,"t":"Sand","w":6},{"x":4879,"y":2116,"t":"Sand","w":1},{"x":4834,"y":2016,"t":"Sand","w":5},{"x":5418,"y":2083,"t":"Sand","w":5},{"x":5507,"y":2072,"t":"Sand","w":1},{"x":5821,"y":2072,"t":"Sand","w":1},{"x":5911,"y":2061,"t":"Sand","w":1},{"x":5328,"y":2128,"t":"Sand","w":6},{"x":4520,"y":2139,"t":"Sand","w":1},{"x":4071,"y":2128,"t":"Sand","w":1},{"x":5731,"y":2161,"t":"Sand","w":1},{"x":5507,"y":2228,"t":"Sand","w":1},{"x":5956,"y":2284,"t":"Sand","w":1},{"x":5014,"y":2239,"t":"Sand","w":1},{"x":3900,"y":1480,"t":"Sand","w":5},{"x":4100,"y":1520,"t":"Sand","w":2},{"x":3700,"y":760,"t":"Sand","w":5},{"x":3850,"y":820,"t":"Sand","w":2}],
"l6":[
{"x":3320,"y":300,"t":"Shale","k":"mid"},{"x":5404,"y":2800,"t":"Shale","k":"mid"},{"x":2056,"y":300,"t":"Shale","k":"lo"},{"x":4334,"y":2800,"t":"Shale","k":"lo"},{"x":4481,"y":300,"t":"Shale","k":"hi"},{"x":6739,"y":2800,"t":"Shale","k":"hi"},
{"x":3230,"y":300,"t":"Sand","k":"mid"},{"x":5314,"y":2800,"t":"Sand","k":"mid"},{"x":2235,"y":300,"t":"Sand","k":"lo"},{"x":4514,"y":2800,"t":"Sand","k":"lo"},{"x":4302,"y":300,"t":"Sand","k":"hi"},{"x":6532,"y":2800,"t":"Sand","k":"hi"}],
"p7":[
{"x":2.057,"y":583,"t":"Shale","w":1},{"x":2.127,"y":605,"t":"Shale","w":1},{"x":2.245,"y":549,"t":"Shale","w":3},{"x":2.222,"y":683,"t":"Shale","w":4},{"x":2.057,"y":639,"t":"Shale","w":2},{"x":2.08,"y":683,"t":"Shale","w":1},{"x":2.151,"y":728,"t":"Shale","w":2},{"x":1.986,"y":695,"t":"Shale","w":5},{"x":2.269,"y":695,"t":"Shale","w":4},{"x":2.057,"y":795,"t":"Shale","w":2},{"x":2.127,"y":862,"t":"Shale","w":2},{"x":2.057,"y":907,"t":"Shale","w":2},{"x":2.104,"y":974,"t":"Shale","w":1},{"x":1.962,"y":996,"t":"Shale","w":1},{"x":1.986,"y":1064,"t":"Shale","w":1},{"x":1.939,"y":1131,"t":"Shale","w":1},{"x":1.962,"y":1287,"t":"Shale","w":2},{"x":2.009,"y":1265,"t":"Shale","w":1},{"x":2.08,"y":1299,"t":"Shale","w":3},{"x":2.175,"y":1310,"t":"Shale","w":4},{"x":2.127,"y":1355,"t":"Shale","w":1},{"x":2.057,"y":1399,"t":"Shale","w":1},{"x":2.104,"y":1422,"t":"Shale","w":5},{"x":1.986,"y":1444,"t":"Shale","w":2},{"x":2.08,"y":1500,"t":"Shale","w":5},{"x":2.033,"y":1533,"t":"Shale","w":1},{"x":1.962,"y":1567,"t":"Shale","w":1},{"x":1.939,"y":1623,"t":"Shale","w":2},{"x":1.962,"y":1668,"t":"Shale","w":5},{"x":1.915,"y":1712,"t":"Shale","w":5},{"x":1.868,"y":1779,"t":"Shale","w":5},{"x":1.844,"y":1847,"t":"Shale","w":5},{"x":1.821,"y":2014,"t":"Shale","w":1},{"x":1.821,"y":2205,"t":"Shale","w":1},{"x":1.844,"y":2249,"t":"Shale","w":1},{"x":2.151,"y":1220,"t":"Shale","w":4},{"x":2.222,"y":1299,"t":"Shale","w":4},{"x":2.127,"y":1422,"t":"Shale","w":4},{"x":1.797,"y":683,"t":"Shale","w":4},{"x":1.868,"y":706,"t":"Shale","w":3},{"x":1.82,"y":974,"t":"Shale","w":6},{"x":2.151,"y":1131,"t":"Shale","w":6},{"x":2.08,"y":1220,"t":"Shale","w":5},{"x":2.01,"y":1360,"t":"Shale","w":3},{"x":2.05,"y":1460,"t":"Shale","w":2},{"x":1.9,"y":1780,"t":"Shale","w":2},{"x":2.0,"y":1600,"t":"Shale","w":6},
{"x":1.892,"y":717,"t":"Sand","w":2},{"x":1.939,"y":750,"t":"Sand","w":1},{"x":1.986,"y":717,"t":"Sand","w":5},{"x":1.915,"y":795,"t":"Sand","w":2},{"x":1.962,"y":829,"t":"Sand","w":1},{"x":2.009,"y":862,"t":"Sand","w":1},{"x":1.868,"y":885,"t":"Sand","w":2},{"x":1.939,"y":930,"t":"Sand","w":2},{"x":1.821,"y":840,"t":"Sand","w":2},{"x":2.009,"y":907,"t":"Sand","w":1},{"x":2.057,"y":952,"t":"Sand","w":1},{"x":2.175,"y":751,"t":"Sand","w":1},{"x":2.293,"y":806,"t":"Sand","w":6},{"x":2.363,"y":840,"t":"Sand","w":6},{"x":2.623,"y":858,"t":"Sand","w":6},{"x":2.198,"y":885,"t":"Sand","w":6},{"x":2.363,"y":916,"t":"Sand","w":6},{"x":2.222,"y":1006,"t":"Sand","w":1},{"x":1.915,"y":1017,"t":"Sand","w":1},{"x":1.892,"y":1051,"t":"Sand","w":2},{"x":1.939,"y":1084,"t":"Sand","w":1},{"x":1.892,"y":1129,"t":"Sand","w":1},{"x":2.057,"y":1164,"t":"Sand","w":1},{"x":2.033,"y":1220,"t":"Sand","w":6},{"x":2.057,"y":1265,"t":"Sand","w":6},{"x":2.151,"y":1153,"t":"Sand","w":6},{"x":1.703,"y":1176,"t":"Sand","w":6},{"x":1.774,"y":1332,"t":"Sand","w":4},{"x":1.821,"y":1355,"t":"Sand","w":5},{"x":1.774,"y":1399,"t":"Sand","w":5},{"x":1.844,"y":1422,"t":"Sand","w":5},{"x":1.726,"y":1444,"t":"Sand","w":5},{"x":1.797,"y":1466,"t":"Sand","w":5},{"x":1.868,"y":1500,"t":"Sand","w":5},{"x":1.75,"y":1533,"t":"Sand","w":4},{"x":1.679,"y":1576,"t":"Sand","w":5},{"x":1.821,"y":1601,"t":"Sand","w":2},{"x":1.703,"y":1646,"t":"Sand","w":5},{"x":1.726,"y":1679,"t":"Sand","w":5},{"x":1.656,"y":1690,"t":"Sand","w":5},{"x":1.679,"y":1735,"t":"Sand","w":5},{"x":1.774,"y":1735,"t":"Sand","w":5},{"x":1.726,"y":1779,"t":"Sand","w":5},{"x":2.033,"y":1757,"t":"Sand","w":6},{"x":1.939,"y":1813,"t":"Sand","w":1},{"x":1.821,"y":1925,"t":"Sand","w":5},{"x":1.561,"y":2070,"t":"Sand","w":5},{"x":1.608,"y":2093,"t":"Sand","w":5},{"x":1.656,"y":2048,"t":"Sand","w":5},{"x":1.585,"y":2126,"t":"Sand","w":5},{"x":1.679,"y":2093,"t":"Sand","w":5},{"x":1.726,"y":2070,"t":"Sand","w":5},{"x":1.774,"y":2137,"t":"Sand","w":5},{"x":1.797,"y":2171,"t":"Sand","w":5},{"x":1.948,"y":2137,"t":"Sand","w":1},{"x":1.844,"y":2238,"t":"Sand","w":1},{"x":1.774,"y":2294,"t":"Sand","w":1},{"x":1.8,"y":1450,"t":"Sand","w":2},{"x":1.85,"y":1380,"t":"Sand","w":5},{"x":1.9,"y":800,"t":"Sand","w":5},{"x":1.95,"y":880,"t":"Sand","w":2}],
"l7":[
{"x":2.065,"y":300,"t":"Shale","k":"mid"},{"x":1.87,"y":2800,"t":"Shale","k":"mid"},{"x":1.861,"y":300,"t":"Shale","k":"lo"},{"x":1.672,"y":2800,"t":"Shale","k":"lo"},{"x":2.267,"y":300,"t":"Shale","k":"hi"},{"x":2.073,"y":2800,"t":"Shale","k":"hi"},
{"x":1.962,"y":300,"t":"Sand","k":"mid"},{"x":1.733,"y":2800,"t":"Sand","k":"mid"},{"x":1.712,"y":300,"t":"Sand","k":"lo"},{"x":1.483,"y":2800,"t":"Sand","k":"lo"},{"x":2.217,"y":300,"t":"Sand","k":"hi"},{"x":1.977,"y":2800,"t":"Sand","k":"hi"}],
"p8":[
{"x":0.334,"y":573,"t":"Shale","w":1},{"x":0.344,"y":617,"t":"Shale","w":1},{"x":0.339,"y":662,"t":"Shale","w":2},{"x":0.353,"y":562,"t":"Shale","w":3},{"x":0.378,"y":551,"t":"Shale","w":3},{"x":0.373,"y":712,"t":"Shale","w":4},{"x":0.363,"y":757,"t":"Shale","w":2},{"x":0.348,"y":790,"t":"Shale","w":1},{"x":0.353,"y":823,"t":"Shale","w":2},{"x":0.368,"y":890,"t":"Shale","w":2},{"x":0.344,"y":935,"t":"Shale","w":1},{"x":0.339,"y":1001,"t":"Shale","w":1},{"x":0.353,"y":1046,"t":"Shale","w":1},{"x":0.334,"y":1180,"t":"Shale","w":1},{"x":0.373,"y":1157,"t":"Shale","w":4},{"x":0.353,"y":1302,"t":"Shale","w":2},{"x":0.363,"y":1336,"t":"Shale","w":5},{"x":0.344,"y":1336,"t":"Shale","w":1},{"x":0.339,"y":1380,"t":"Shale","w":1},{"x":0.353,"y":1425,"t":"Shale","w":3},{"x":0.324,"y":1470,"t":"Shale","w":2},{"x":0.329,"y":1525,"t":"Shale","w":5},{"x":0.339,"y":1581,"t":"Shale","w":1},{"x":0.324,"y":1626,"t":"Shale","w":5},{"x":0.319,"y":1681,"t":"Shale","w":5},{"x":0.3,"y":1715,"t":"Shale","w":1},{"x":0.29,"y":2005,"t":"Shale","w":1},{"x":0.285,"y":2016,"t":"Shale","w":1},{"x":0.29,"y":2194,"t":"Shale","w":1},{"x":0.295,"y":2205,"t":"Shale","w":1},{"x":0.363,"y":1269,"t":"Shale","w":4},{"x":0.373,"y":1247,"t":"Shale","w":4},{"x":0.334,"y":935,"t":"Shale","w":2},{"x":0.314,"y":923,"t":"Shale","w":2},{"x":0.3,"y":723,"t":"Shale","w":4},{"x":0.324,"y":768,"t":"Shale","w":2},{"x":0.33,"y":1250,"t":"Shale","w":5},{"x":0.345,"y":1480,"t":"Shale","w":2},{"x":0.36,"y":640,"t":"Shale","w":1},
{"x":0.309,"y":701,"t":"Sand","w":2},{"x":0.324,"y":735,"t":"Sand","w":1},{"x":0.334,"y":768,"t":"Sand","w":5},{"x":0.314,"y":801,"t":"Sand","w":2},{"x":0.329,"y":823,"t":"Sand","w":1},{"x":0.304,"y":829,"t":"Sand","w":2},{"x":0.324,"y":868,"t":"Sand","w":1},{"x":0.295,"y":890,"t":"Sand","w":2},{"x":0.314,"y":935,"t":"Sand","w":2},{"x":0.339,"y":912,"t":"Sand","w":1},{"x":0.373,"y":801,"t":"Sand","w":6},{"x":0.383,"y":757,"t":"Sand","w":6},{"x":0.392,"y":818,"t":"Sand","w":6},{"x":0.407,"y":840,"t":"Sand","w":6},{"x":0.417,"y":852,"t":"Sand","w":6},{"x":0.373,"y":874,"t":"Sand","w":6},{"x":0.392,"y":907,"t":"Sand","w":6},{"x":0.373,"y":1001,"t":"Sand","w":1},{"x":0.314,"y":1001,"t":"Sand","w":1},{"x":0.324,"y":1057,"t":"Sand","w":1},{"x":0.3,"y":1169,"t":"Sand","w":6},{"x":0.241,"y":1180,"t":"Sand","w":6},{"x":0.256,"y":1336,"t":"Sand","w":5},{"x":0.246,"y":1380,"t":"Sand","w":5},{"x":0.275,"y":1403,"t":"Sand","w":5},{"x":0.265,"y":1448,"t":"Sand","w":5},{"x":0.236,"y":1470,"t":"Sand","w":5},{"x":0.251,"y":1503,"t":"Sand","w":5},{"x":0.275,"y":1492,"t":"Sand","w":5},{"x":0.285,"y":1448,"t":"Sand","w":5},{"x":0.3,"y":1537,"t":"Sand","w":1},{"x":0.256,"y":1581,"t":"Sand","w":5},{"x":0.275,"y":1581,"t":"Sand","w":5},{"x":0.236,"y":1626,"t":"Sand","w":5},{"x":0.221,"y":1693,"t":"Sand","w":5},{"x":0.236,"y":1726,"t":"Sand","w":5},{"x":0.256,"y":1715,"t":"Sand","w":5},{"x":0.246,"y":1759,"t":"Sand","w":5},{"x":0.275,"y":1770,"t":"Sand","w":5},{"x":0.265,"y":1826,"t":"Sand","w":5},{"x":0.275,"y":1938,"t":"Sand","w":1},{"x":0.217,"y":2049,"t":"Sand","w":5},{"x":0.236,"y":2083,"t":"Sand","w":5},{"x":0.241,"y":2116,"t":"Sand","w":5},{"x":0.168,"y":2071,"t":"Sand","w":5},{"x":0.163,"y":2116,"t":"Sand","w":5},{"x":0.207,"y":2116,"t":"Sand","w":5},{"x":0.275,"y":2138,"t":"Sand","w":1},{"x":0.295,"y":2127,"t":"Sand","w":1},{"x":0.27,"y":2205,"t":"Sand","w":1},{"x":0.324,"y":2127,"t":"Sand","w":1},{"x":0.265,"y":2283,"t":"Sand","w":1},{"x":0.353,"y":1804,"t":"Sand","w":1},{"x":0.324,"y":1870,"t":"Sand","w":6},{"x":0.29,"y":1480,"t":"Sand","w":2},{"x":0.27,"y":1520,"t":"Sand","w":4},{"x":0.3,"y":760,"t":"Sand","w":5}],
"l8":[
{"x":0.348,"y":300,"t":"Shale","k":"mid"},{"x":0.302,"y":2800,"t":"Shale","k":"mid"},{"x":0.303,"y":300,"t":"Shale","k":"lo"},{"x":0.264,"y":2800,"t":"Shale","k":"lo"},{"x":0.404,"y":300,"t":"Shale","k":"hi"},{"x":0.349,"y":2800,"t":"Shale","k":"hi"},
{"x":0.329,"y":300,"t":"Sand","k":"mid"},{"x":0.253,"y":2800,"t":"Sand","k":"mid"},{"x":0.259,"y":300,"t":"Sand","k":"lo"},{"x":0.186,"y":2800,"t":"Sand","k":"lo"},{"x":0.393,"y":300,"t":"Sand","k":"hi"},{"x":0.321,"y":2800,"t":"Sand","k":"hi"}]
},
"concat":[
{"width":262,"height":340,
"encoding":{"color":{"field":"t","type":"nominal","scale":{"domain":["Shale","Sand"],"range":["#0a9a8c","#ff0000"]},"legend":null}},
"layer":[
{"data":{"name":"l1"},"transform":[{"filter":"datum.k != 'mid'"}],"mark":{"type":"line","clip":true,"strokeDash":[3,3],"strokeWidth":1.3,"opacity":0.8},"encoding":{"x":{"field":"x","type":"quantitative","scale":{"domain":[2180,4625],"nice":false,"zero":false}},"y":{"field":"y","type":"quantitative","scale":{"domain":[340,2701],"reverse":true,"nice":false,"zero":false}},"detail":{"field":"k","type":"nominal"}}},
{"data":{"name":"p1"},"mark":{"type":"point","filled":true,"size":62,"opacity":1},"encoding":{"x":{"field":"x","type":"quantitative","scale":{"domain":[2180,4625],"nice":false,"zero":false},"axis":{"title":null,"values":[2500,3000,3500,4000,4500],"format":"d"}},"y":{"field":"y","type":"quantitative","scale":{"domain":[340,2701],"reverse":true,"nice":false,"zero":false},"axis":{"title":null,"values":[500,1000,1500,2000,2500],"format":"d"}},"shape":{"field":"w","type":"nominal","scale":{"domain":[1,2,3,4,5,6],"range":["square","circle","triangle-up","triangle-down","diamond","M-1,-0.4H1V0.4H-1Z"]},"legend":null}}},
{"data":{"name":"l1"},"transform":[{"filter":"datum.k == 'mid'"}],"mark":{"type":"line","clip":true,"strokeWidth":2},"encoding":{"x":{"field":"x","type":"quantitative"},"y":{"field":"y","type":"quantitative"},"detail":{"field":"k","type":"nominal"}}},
{"data":{"values":[{"x":3231,"y":836}]},"mark":{"type":"point","shape":"circle","size":270,"filled":true,"strokeWidth":2,"opacity":1},"encoding":{"x":{"field":"x","type":"quantitative"},"y":{"field":"y","type":"quantitative"},"color":{"value":"black"},"fill":{"value":"white"},"stroke":{"value":"black"}}},
{"data":{"values":[{"x":3231,"y":836}]},"mark":{"type":"point","shape":"circle","size":85,"filled":true,"strokeWidth":2.2,"opacity":1},"encoding":{"x":{"field":"x","type":"quantitative"},"y":{"field":"y","type":"quantitative"},"color":{"value":"black"},"fill":{"value":"#ff0000"},"stroke":{"value":"black"}}},
{"data":{"values":[{}]},"mark":{"type":"rect","stroke":"#111","strokeWidth":1.5},"encoding":{"x":{"datum":2227,"type":"quantitative"},"x2":{"datum":2451},"y":{"datum":347,"type":"quantitative"},"y2":{"datum":1007},"color":{"value":"white"}}},
{"data":{"values":[{}]},"mark":{"type":"text","fontSize":20,"angle":270,"align":"center","baseline":"middle"},"encoding":{"x":{"datum":2339,"type":"quantitative"},"y":{"datum":677,"type":"quantitative"},"text":{"value":"TVDML m"},"color":{"value":"black"}}},
{"data":{"values":[{}]},"mark":{"type":"rect","stroke":"#111","strokeWidth":1.5},"encoding":{"x":{"datum":3848,"type":"quantitative"},"x2":{"datum":4578},"y":{"datum":2474,"type":"quantitative"},"y2":{"datum":2661},"color":{"value":"white"}}},
{"data":{"values":[{}]},"mark":{"type":"text","fontSize":20,"align":"center","baseline":"middle"},"encoding":{"x":{"datum":4213,"type":"quantitative"},"y":{"datum":2568,"type":"quantitative"},"text":{"value":"Vp (m/s)"},"color":{"value":"black"}}},
{"data":{"values":[{}]},"mark":{"type":"rule","strokeWidth":2},"encoding":{"x":{"datum":1685,"type":"quantitative"},"x2":{"datum":14526},"y":{"datum":-70,"type":"quantitative"},"color":{"value":"#333"}}},
{"data":{"values":[{}]},"mark":{"type":"rule","strokeWidth":2},"encoding":{"x":{"datum":1685,"type":"quantitative"},"y":{"datum":-70,"type":"quantitative"},"y2":{"datum":5653},"color":{"value":"#333"}}},
{"data":{"values":[{}]},"mark":{"type":"rect","strokeWidth":1.5,"fillOpacity":0,"stroke":"#333"},"encoding":{"x":{"datum":1785,"type":"quantitative"},"x2":{"datum":7953},"y":{"datum":241,"type":"quantitative"},"y2":{"datum":5616},"color":{"value":"white"}}},
{"data":{"values":[{}]},"mark":{"type":"rect","strokeWidth":1.5,"fillOpacity":0,"stroke":"#333"},"encoding":{"x":{"datum":8348,"type":"quantitative"},"x2":{"datum":14517},"y":{"datum":241,"type":"quantitative"},"y2":{"datum":5616},"color":{"value":"white"}}},
{"data":{"values":[{}]},"mark":{"type":"text","fontSize":36,"align":"center","baseline":"alphabetic"},"encoding":{"x":{"datum":8157,"type":"quantitative"},"y":{"datum":157,"type":"quantitative"},"text":{"value":"End-member Rock Physics Depth Trends"},"color":{"value":"black"}}},
{"data":{"values":[{}]},"mark":{"type":"text","fontSize":19,"align":"left","baseline":"alphabetic"},"encoding":{"x":{"datum":1835,"type":"quantitative"},"y":{"datum":347,"type":"quantitative"},"text":{"value":"a)"},"color":{"value":"black"}}},
{"data":{"values":[{}]},"mark":{"type":"text","fontSize":19,"align":"left","baseline":"alphabetic"},"encoding":{"x":{"datum":8404,"type":"quantitative"},"y":{"datum":347,"type":"quantitative"},"text":{"value":"b)"},"color":{"value":"black"}}}
]},
{"width":262,"height":340,
"encoding":{"color":{"field":"t","type":"nominal","scale":{"domain":["Shale","Sand"],"range":["#0a9a8c","#ff0000"]},"legend":null}},
"layer":[
{"data":{"name":"l2"},"transform":[{"filter":"datum.k != 'mid'"}],"mark":{"type":"line","clip":true,"strokeDash":[3,3],"strokeWidth":1.3,"opacity":0.8},"encoding":{"x":{"field":"x","type":"quantitative","scale":{"domain":[2160,4625],"nice":false,"zero":false}},"y":{"field":"y","type":"quantitative","scale":{"domain":[342,2898],"nice":false,"zero":false}},"detail":{"field":"k","type":"nominal"}}},
{"data":{"name":"p2"},"mark":{"type":"point","filled":true,"size":62,"opacity":1},"encoding":{"x":{"field":"x","type":"quantitative","scale":{"domain":[2160,4625],"nice":false,"zero":false},"axis":{"title":null,"values":[2500,3000,3500,4000,4500],"format":"d"}},"y":{"field":"y","type":"quantitative","scale":{"domain":[342,2898],"nice":false,"zero":false},"axis":{"title":null,"values":[500,1000,1500,2000,2500],"format":"d"}},"shape":{"field":"w","type":"nominal","scale":{"domain":[1,2,3,4,5,6],"range":["square","circle","triangle-up","triangle-down","diamond","M-1,-0.4H1V0.4H-1Z"]},"legend":null}}},
{"data":{"name":"l2"},"transform":[{"filter":"datum.k == 'mid'"}],"mark":{"type":"line","clip":true,"strokeWidth":2},"encoding":{"x":{"field":"x","type":"quantitative"},"y":{"field":"y","type":"quantitative"},"detail":{"field":"k","type":"nominal"}}},
{"data":{"values":[{"x":3234,"y":1761}]},"mark":{"type":"point","shape":"circle","size":270,"filled":true,"strokeWidth":2,"opacity":1},"encoding":{"x":{"field":"x","type":"quantitative"},"y":{"field":"y","type":"quantitative"},"color":{"value":"black"},"fill":{"value":"white"},"stroke":{"value":"black"}}},
{"data":{"values":[{"x":3234,"y":1761}]},"mark":{"type":"point","shape":"circle","size":85,"filled":true,"strokeWidth":2.2,"opacity":1},"encoding":{"x":{"field":"x","type":"quantitative"},"y":{"field":"y","type":"quantitative"},"color":{"value":"black"},"fill":{"value":"#ff0000"},"stroke":{"value":"black"}}},
{"data":{"values":[{}]},"mark":{"type":"rect","stroke":"#111","strokeWidth":1.5},"encoding":{"x":{"datum":2188,"type":"quantitative"},"x2":{"datum":2433},"y":{"datum":2891,"type":"quantitative"},"y2":{"datum":2267},"color":{"value":"white"}}},
{"data":{"values":[{}]},"mark":{"type":"text","fontSize":20,"angle":270,"align":"center","baseline":"middle"},"encoding":{"x":{"datum":2311,"type":"quantitative"},"y":{"datum":2579,"type":"quantitative"},"text":{"value":"Vs (m/s)"},"color":{"value":"black"}}},
{"data":{"values":[{}]},"mark":{"type":"rect","stroke":"#111","strokeWidth":1.5},"encoding":{"x":{"datum":3822,"type":"quantitative"},"x2":{"datum":4568},"y":{"datum":588,"type":"quantitative"},"y2":{"datum":385},"color":{"value":"white"}}},
{"data":{"values":[{}]},"mark":{"type":"text","fontSize":20,"align":"center","baseline":"middle"},"encoding":{"x":{"datum":4195,"type":"quantitative"},"y":{"datum":486,"type":"quantitative"},"text":{"value":"Vp (m/s)"},"color":{"value":"black"}}}
]},
{"width":262,"height":346,
"encoding":{"color":{"field":"t","type":"nominal","scale":{"domain":["Shale","Sand"],"range":["#0a9a8c","#ff0000"]},"legend":null}},
"layer":[
{"data":{"name":"l5"},"transform":[{"filter":"datum.k != 'mid'"}],"mark":{"type":"line","clip":true,"strokeDash":[3,3],"strokeWidth":1.3,"opacity":0.8},"encoding":{"x":{"field":"x","type":"quantitative","scale":{"domain":[828,15740],"nice":false,"zero":false}},"y":{"field":"y","type":"quantitative","scale":{"domain":[393,2707],"reverse":true,"nice":false,"zero":false}},"detail":{"field":"k","type":"nominal"}}},
{"data":{"name":"p5"},"mark":{"type":"point","filled":true,"size":62,"opacity":1},"encoding":{"x":{"field":"x","type":"quantitative","scale":{"domain":[828,15740],"nice":false,"zero":false},"axis":{"title":null,"values":[5000,10000,15000],"format":"d"}},"y":{"field":"y","type":"quantitative","scale":{"domain":[393,2707],"reverse":true,"nice":false,"zero":false},"axis":{"title":null,"values":[500,1000,1500,2000,2500],"format":"d"}},"shape":{"field":"w","type":"nominal","scale":{"domain":[1,2,3,4,5,6],"range":["square","circle","triangle-up","triangle-down","diamond","M-1,-0.4H1V0.4H-1Z"]},"legend":null}}},
{"data":{"name":"l5"},"transform":[{"filter":"datum.k == 'mid'"}],"mark":{"type":"line","clip":true,"strokeWidth":2},"encoding":{"x":{"field":"x","type":"quantitative"},"y":{"field":"y","type":"quantitative"},"detail":{"field":"k","type":"nominal"}}},
{"data":{"values":[{"x":7505,"y":841}]},"mark":{"type":"point","shape":"circle","size":270,"filled":true,"strokeWidth":2,"opacity":1},"encoding":{"x":{"field":"x","type":"quantitative"},"y":{"field":"y","type":"quantitative"},"color":{"value":"black"},"fill":{"value":"white"},"stroke":{"value":"black"}}},
{"data":{"values":[{"x":7505,"y":841}]},"mark":{"type":"point","shape":"circle","size":85,"filled":true,"strokeWidth":2.2,"opacity":1},"encoding":{"x":{"field":"x","type":"quantitative"},"y":{"field":"y","type":"quantitative"},"color":{"value":"black"},"fill":{"value":"#ff0000"},"stroke":{"value":"black"}}},
{"data":{"values":[{}]},"mark":{"type":"rect","stroke":"#111","strokeWidth":1.5},"encoding":{"x":{"datum":1169,"type":"quantitative"},"x2":{"datum":2632},"y":{"datum":418,"type":"quantitative"},"y2":{"datum":1055},"color":{"value":"white"}}},
{"data":{"values":[{}]},"mark":{"type":"text","fontSize":20,"angle":270,"align":"center","baseline":"middle"},"encoding":{"x":{"datum":1892,"type":"quantitative"},"y":{"datum":736,"type":"quantitative"},"text":{"value":"TVDML m"},"color":{"value":"black"}}},
{"data":{"values":[{}]},"mark":{"type":"rect","stroke":"#111","strokeWidth":1.5},"encoding":{"x":{"datum":7334,"type":"quantitative"},"x2":{"datum":15570},"y":{"datum":2431,"type":"quantitative"},"y2":{"datum":2654},"color":{"value":"white"}}},
{"data":{"values":[{}]},"mark":{"type":"text","fontSize":20,"align":"center","baseline":"middle"},"encoding":{"x":{"datum":11449,"type":"quantitative"},"y":{"datum":2542,"type":"quantitative"},"text":{"value":"AI (m/s × g/cm³)"},"color":{"value":"black"}}}
]},
{"width":262,"height":346,
"layer":[
{"data":{"name":"l6"},"transform":[{"filter":"datum.k != 'mid'"}],"mark":{"type":"line","clip":true,"strokeDash":[3,3],"strokeWidth":1.3,"opacity":0.8},"encoding":{"x":{"field":"x","type":"quantitative","scale":{"domain":[911,7966],"nice":false,"zero":false}},"y":{"field":"y","type":"quantitative","scale":{"domain":[393,2707],"reverse":true,"nice":false,"zero":false}},"detail":{"field":"k","type":"nominal"},"stroke":{"field":"t","type":"nominal","scale":{"domain":["Sand","Shale"],"range":["#ff0000","#0a9a8c"]},"legend":null}}},
{"data":{"name":"p6"},"mark":{"type":"point","filled":true,"size":62,"opacity":1},"encoding":{"x":{"field":"x","type":"quantitative","scale":{"domain":[911,7966],"nice":false,"zero":false},"axis":{"title":null,"values":[2500,5000,7500],"format":"d"}},"y":{"field":"y","type":"quantitative","scale":{"domain":[393,2707],"reverse":true,"nice":false,"zero":false},"axis":{"title":null,"values":[500,1000,1500,2000,2500],"format":"d"}},"shape":{"field":"w","type":"nominal","scale":{"domain":[1,2,3,4,5,6],"range":["square","circle","triangle-up","triangle-down","diamond","M-1,-0.4H1V0.4H-1Z"]},"legend":null},
"color":{"field":"t","type":"nominal","scale":{"domain":["Shale","Sand"],"range":["#0a9a8c","#ff0000"]},"legend":{"title":"Trends","orient":"top-right","offset":10,"symbolType":"square","symbolSize":400,"symbolStrokeColor":"#111","symbolStrokeWidth":1.5,"symbolOpacity":1,"labelFontSize":17,"labelFont":"Liberation Sans","labelColor":"#111","titleFontSize":20,"titleFontWeight":"normal","titleColor":"#111","titleFont":"Liberation Sans","fillColor":"white","strokeColor":"#111","padding":5,"rowPadding":1,"labelOffset":2,"titlePadding":2}}}},
{"data":{"name":"l6"},"transform":[{"filter":"datum.k == 'mid'"}],"mark":{"type":"line","clip":true,"strokeWidth":2},"encoding":{"x":{"field":"x","type":"quantitative"},"y":{"field":"y","type":"quantitative"},"detail":{"field":"k","type":"nominal"},"stroke":{"field":"t","type":"nominal","scale":{"domain":["Sand","Shale"],"range":["#ff0000","#0a9a8c"]},"legend":null}}},
{"data":{"values":[{"x":4026,"y":839}]},"mark":{"type":"point","shape":"circle","size":270,"filled":true,"strokeWidth":2,"opacity":1},"encoding":{"x":{"field":"x","type":"quantitative"},"y":{"field":"y","type":"quantitative"},"fill":{"value":"white"},"stroke":{"value":"black"}}},
{"data":{"values":[{"x":4026,"y":839}]},"mark":{"type":"point","shape":"circle","size":85,"filled":true,"strokeWidth":2.2,"opacity":1},"encoding":{"x":{"field":"x","type":"quantitative"},"y":{"field":"y","type":"quantitative"},"fill":{"value":"#ff0000"},"stroke":{"value":"black"}}},
{"data":{"values":[{}]},"mark":{"type":"rect","stroke":"#111","strokeWidth":1.5,"fill":"white"},"encoding":{"x":{"datum":1108,"type":"quantitative"},"x2":{"datum":1781},"y":{"datum":418,"type":"quantitative"},"y2":{"datum":1055}}},
{"data":{"values":[{}]},"mark":{"type":"text","fontSize":20,"angle":270,"align":"center","baseline":"middle","fill":"black"},"encoding":{"x":{"datum":1444,"type":"quantitative"},"y":{"datum":736,"type":"quantitative"},"text":{"value":"TVDML m"}}},
{"data":{"values":[{}]},"mark":{"type":"rect","stroke":"#111","strokeWidth":1.5,"fill":"white"},"encoding":{"x":{"datum":3892,"type":"quantitative"},"x2":{"datum":7770},"y":{"datum":2424,"type":"quantitative"},"y2":{"datum":2660}}},
{"data":{"values":[{}]},"mark":{"type":"text","fontSize":20,"align":"center","baseline":"middle","fill":"black"},"encoding":{"x":{"datum":5831,"type":"quantitative"},"y":{"datum":2542,"type":"quantitative"},"text":{"value":"SI (m/s × g/cm³)"}}}
]},
{"width":262,"height":340,
"encoding":{"color":{"field":"t","type":"nominal","scale":{"domain":["Shale","Sand"],"range":["#0a9a8c","#ff0000"]},"legend":null}},
"layer":[
{"data":{"name":"l3"},"transform":[{"filter":"datum.k != 'mid'"}],"mark":{"type":"line","clip":true,"strokeDash":[3,3],"strokeWidth":1.3,"opacity":0.8},"encoding":{"x":{"field":"x","type":"quantitative","scale":{"domain":[2180,4620],"nice":false,"zero":false}},"y":{"field":"y","type":"quantitative","scale":{"domain":[0.0286,0.3167],"nice":false,"zero":false}},"detail":{"field":"k","type":"nominal"}}},
{"data":{"name":"p3"},"mark":{"type":"point","filled":true,"size":62,"opacity":1},"encoding":{"x":{"field":"x","type":"quantitative","scale":{"domain":[2180,4620],"nice":false,"zero":false},"axis":{"title":null,"values":[2500,3000,3500,4000,4500],"format":"d"}},"y":{"field":"y","type":"quantitative","scale":{"domain":[0.0286,0.3167],"nice":false,"zero":false},"axis":{"title":null,"values":[0.05,0.1,0.15,0.2,0.25,0.3],"format":".2f"}},"shape":{"field":"w","type":"nominal","scale":{"domain":[1,2,3,4,5,6],"range":["square","circle","triangle-up","triangle-down","diamond","M-1,-0.4H1V0.4H-1Z"]},"legend":null}}},
{"data":{"name":"l3"},"transform":[{"filter":"datum.k == 'mid'"}],"mark":{"type":"line","clip":true,"strokeWidth":2},"encoding":{"x":{"field":"x","type":"quantitative"},"y":{"field":"y","type":"quantitative"},"detail":{"field":"k","type":"nominal"}}},
{"data":{"values":[{"x":3233,"y":0.2031}]},"mark":{"type":"point","shape":"circle","size":270,"filled":false,"strokeWidth":2,"opacity":1},"encoding":{"x":{"field":"x","type":"quantitative"},"y":{"field":"y","type":"quantitative"},"color":{"value":"black"}}},
{"data":{"values":[{}]},"mark":{"type":"rect","stroke":"#111","strokeWidth":1.5},"encoding":{"x":{"datum":2224,"type":"quantitative"},"x2":{"datum":2457},"y":{"datum":0.3163,"type":"quantitative"},"y2":{"datum":0.2335},"color":{"value":"white"}}},
{"data":{"values":[{}]},"mark":{"type":"text","fontSize":20,"angle":270,"align":"center","baseline":"middle"},"encoding":{"x":{"datum":2340,"type":"quantitative"},"y":{"datum":0.2749,"type":"quantitative"},"text":{"value":"PHIE (v/v)"},"color":{"value":"black"}}},
{"data":{"values":[{}]},"mark":{"type":"rect","stroke":"#111","strokeWidth":1.5},"encoding":{"x":{"datum":3819,"type":"quantitative"},"x2":{"datum":4564},"y":{"datum":0.0576,"type":"quantitative"},"y2":{"datum":0.0351},"color":{"value":"white"}}},
{"data":{"values":[{}]},"mark":{"type":"text","fontSize":20,"align":"center","baseline":"middle"},"encoding":{"x":{"datum":4192,"type":"quantitative"},"y":{"datum":0.0463,"type":"quantitative"},"text":{"value":"Vp (m/s)"},"color":{"value":"black"}}}
]},
{"width":262,"height":340,
"encoding":{"color":{"field":"t","type":"nominal","scale":{"domain":["Shale","Sand"],"range":["#0a9a8c","#ff0000"]},"legend":null}},
"layer":[
{"data":{"name":"l4"},"transform":[{"filter":"datum.k != 'mid'"}],"mark":{"type":"line","clip":true,"strokeDash":[3,3],"strokeWidth":1.3,"opacity":0.8,"interpolate":"monotone"},"encoding":{"x":{"field":"x","type":"quantitative","scale":{"domain":[2175,4640],"nice":false,"zero":false}},"y":{"field":"y","type":"quantitative","scale":{"domain":[1.652,2.852],"nice":false,"zero":false}},"detail":{"field":"k","type":"nominal"}}},
{"data":{"name":"p4"},"mark":{"type":"point","filled":true,"size":62,"opacity":1},"encoding":{"x":{"field":"x","type":"quantitative","scale":{"domain":[2175,4640],"nice":false,"zero":false},"axis":{"title":null,"values":[2500,3000,3500,4000,4500],"format":"d"}},"y":{"field":"y","type":"quantitative","scale":{"domain":[1.652,2.852],"nice":false,"zero":false},"axis":{"title":null,"values":[1.8,2.0,2.2,2.4,2.6,2.8],"format":".1f"}},"shape":{"field":"w","type":"nominal","scale":{"domain":[1,2,3,4,5,6],"range":["square","circle","triangle-up","triangle-down","diamond","M-1,-0.4H1V0.4H-1Z"]},"legend":null}}},
{"data":{"name":"l4"},"transform":[{"filter":"datum.k == 'mid'"}],"mark":{"type":"line","clip":true,"strokeWidth":2,"interpolate":"monotone"},"encoding":{"x":{"field":"x","type":"quantitative"},"y":{"field":"y","type":"quantitative"},"detail":{"field":"k","type":"nominal"}}},
{"data":{"values":[{"x":3240,"y":2.338}]},"mark":{"type":"point","shape":"circle","size":270,"filled":true,"strokeWidth":2,"opacity":1},"encoding":{"x":{"field":"x","type":"quantitative"},"y":{"field":"y","type":"quantitative"},"color":{"value":"black"},"fill":{"value":"white"},"stroke":{"value":"black"}}},
{"data":{"values":[{"x":3240,"y":2.338}]},"mark":{"type":"point","shape":"circle","size":85,"filled":true,"strokeWidth":2.2,"opacity":1},"encoding":{"x":{"field":"x","type":"quantitative"},"y":{"field":"y","type":"quantitative"},"color":{"value":"black"},"fill":{"value":"#ff0000"},"stroke":{"value":"black"}}},
{"data":{"values":[{}]},"mark":{"type":"rect","stroke":"#111","strokeWidth":1.5},"encoding":{"x":{"datum":2210,"type":"quantitative"},"x2":{"datum":2467},"y":{"datum":2.845,"type":"quantitative"},"y2":{"datum":2.4648},"color":{"value":"white"}}},
{"data":{"values":[{}]},"mark":{"type":"text","fontSize":20,"angle":270,"align":"center","baseline":"middle"},"encoding":{"x":{"datum":2338,"type":"quantitative"},"y":{"datum":2.655,"type":"quantitative"},"text":{"value":"Rho (g/cm³)"},"color":{"value":"black"}}},
{"data":{"values":[{}]},"mark":{"type":"rect","stroke":"#111","strokeWidth":1.5},"encoding":{"x":{"datum":3815,"type":"quantitative"},"x2":{"datum":4568},"y":{"datum":1.7694,"type":"quantitative"},"y2":{"datum":1.6776},"color":{"value":"white"}}},
{"data":{"values":[{}]},"mark":{"type":"text","fontSize":20,"align":"center","baseline":"middle"},"encoding":{"x":{"datum":4191,"type":"quantitative"},"y":{"datum":1.7235,"type":"quantitative"},"text":{"value":"Vp (m/s)"},"color":{"value":"black"}}}
]},
{"width":262,"height":346,
"encoding":{"color":{"field":"t","type":"nominal","scale":{"domain":["Shale","Sand"],"range":["#0a9a8c","#ff0000"]},"legend":null}},
"layer":[
{"data":{"name":"l7"},"transform":[{"filter":"datum.k != 'mid'"}],"mark":{"type":"line","clip":true,"strokeDash":[3,3],"strokeWidth":1.3,"opacity":0.8},"encoding":{"x":{"field":"x","type":"quantitative","scale":{"domain":[0.147,3.853],"nice":false,"zero":false}},"y":{"field":"y","type":"quantitative","scale":{"domain":[393,2708],"reverse":true,"nice":false,"zero":false}},"detail":{"field":"k","type":"nominal"}}},
{"data":{"name":"p7"},"mark":{"type":"point","filled":true,"size":62,"opacity":1},"encoding":{"x":{"field":"x","type":"quantitative","scale":{"domain":[0.147,3.853],"nice":false,"zero":false},"axis":{"title":null,"values":[1,2,3],"format":"d"}},"y":{"field":"y","type":"quantitative","scale":{"domain":[393,2708],"reverse":true,"nice":false,"zero":false},"axis":{"title":null,"values":[500,1000,1500,2000,2500],"format":"d"}},"shape":{"field":"w","type":"nominal","scale":{"domain":[1,2,3,4,5,6],"range":["square","circle","triangle-up","triangle-down","diamond","M-1,-0.4H1V0.4H-1Z"]},"legend":null}}},
{"data":{"name":"l7"},"transform":[{"filter":"datum.k == 'mid'"}],"mark":{"type":"line","clip":true,"strokeWidth":2},"encoding":{"x":{"field":"x","type":"quantitative"},"y":{"field":"y","type":"quantitative"},"detail":{"field":"k","type":"nominal"}}},
{"data":{"values":[{"x":1.821,"y":845}]},"mark":{"type":"point","shape":"circle","size":270,"filled":true,"strokeWidth":2,"opacity":1},"encoding":{"x":{"field":"x","type":"quantitative"},"y":{"field":"y","type":"quantitative"},"color":{"value":"black"},"fill":{"value":"white"},"stroke":{"value":"black"}}},
{"data":{"values":[{"x":1.821,"y":845}]},"mark":{"type":"point","shape":"circle","size":85,"filled":true,"strokeWidth":2.2,"opacity":1},"encoding":{"x":{"field":"x","type":"quantitative"},"y":{"field":"y","type":"quantitative"},"color":{"value":"black"},"fill":{"value":"#ff0000"},"stroke":{"value":"black"}}},
{"data":{"values":[{}]},"mark":{"type":"rect","stroke":"#111","strokeWidth":1.5},"encoding":{"x":{"datum":0.228,"type":"quantitative"},"x2":{"datum":0.586},"y":{"datum":408,"type":"quantitative"},"y2":{"datum":1048},"color":{"value":"white"}}},
{"data":{"values":[{}]},"mark":{"type":"text","fontSize":20,"angle":270,"align":"center","baseline":"middle"},"encoding":{"x":{"datum":0.406,"type":"quantitative"},"y":{"datum":729,"type":"quantitative"},"text":{"value":"TVDML m"},"color":{"value":"black"}}},
{"data":{"values":[{}]},"mark":{"type":"rect","stroke":"#111","strokeWidth":1.5},"encoding":{"x":{"datum":1.529,"type":"quantitative"},"x2":{"datum":3.754},"y":{"datum":2460,"type":"quantitative"},"y2":{"datum":2669},"color":{"value":"white"}}},
{"data":{"values":[{}]},"mark":{"type":"text","fontSize":20,"align":"center","baseline":"middle"},"encoding":{"x":{"datum":2.641,"type":"quantitative"},"y":{"datum":2565,"type":"quantitative"},"text":{"value":"Vp/Vs (Unitless)"},"color":{"value":"black"}}}
]},
{"width":262,"height":346,
"encoding":{"color":{"field":"t","type":"nominal","scale":{"domain":["Shale","Sand"],"range":["#0a9a8c","#ff0000"]},"legend":null}},
"layer":[
{"data":{"name":"l8"},"transform":[{"filter":"datum.k != 'mid'"}],"mark":{"type":"line","clip":true,"strokeDash":[3,3],"strokeWidth":1.3,"opacity":0.8},"encoding":{"x":{"field":"x","type":"quantitative","scale":{"domain":[-0.117,0.65],"nice":false,"zero":false}},"y":{"field":"y","type":"quantitative","scale":{"domain":[393,2708],"reverse":true,"nice":false,"zero":false}},"detail":{"field":"k","type":"nominal"}}},
{"data":{"name":"p8"},"mark":{"type":"point","filled":true,"size":62,"opacity":1},"encoding":{"x":{"field":"x","type":"quantitative","scale":{"domain":[-0.117,0.65],"nice":false,"zero":false},"axis":{"title":null,"values":[0,0.2,0.4,0.6],"format":"~g"}},"y":{"field":"y","type":"quantitative","scale":{"domain":[393,2708],"reverse":true,"nice":false,"zero":false},"axis":{"title":null,"values":[500,1000,1500,2000,2500],"format":"d"}},"shape":{"field":"w","type":"nominal","scale":{"domain":[1,2,3,4,5,6],"range":["square","circle","triangle-up","triangle-down","diamond","M-1,-0.4H1V0.4H-1Z"]},"legend":null}}},
{"data":{"name":"l8"},"transform":[{"filter":"datum.k == 'mid'"}],"mark":{"type":"line","clip":true,"strokeWidth":2},"encoding":{"x":{"field":"x","type":"quantitative"},"y":{"field":"y","type":"quantitative"},"detail":{"field":"k","type":"nominal"}}},
{"data":{"values":[{"x":0.29,"y":850}]},"mark":{"type":"point","shape":"circle","size":270,"filled":true,"strokeWidth":2,"opacity":1},"encoding":{"x":{"field":"x","type":"quantitative"},"y":{"field":"y","type":"quantitative"},"color":{"value":"black"},"fill":{"value":"white"},"stroke":{"value":"black"}}},
{"data":{"values":[{"x":0.29,"y":850}]},"mark":{"type":"point","shape":"circle","size":85,"filled":true,"strokeWidth":2.2,"opacity":1},"encoding":{"x":{"field":"x","type":"quantitative"},"y":{"field":"y","type":"quantitative"},"color":{"value":"black"},"fill":{"value":"#ff0000"},"stroke":{"value":"black"}}},
{"data":{"values":[{}]},"mark":{"type":"rect","stroke":"#111","strokeWidth":1.5},"encoding":{"x":{"datum":-0.0957,"type":"quantitative"},"x2":{"datum":-0.0225},"y":{"datum":408,"type":"quantitative"},"y2":{"datum":1048},"color":{"value":"white"}}},
{"data":{"values":[{}]},"mark":{"type":"text","fontSize":20,"angle":270,"align":"center","baseline":"middle"},"encoding":{"x":{"datum":-0.0591,"type":"quantitative"},"y":{"datum":729,"type":"quantitative"},"text":{"value":"TVDML m"},"color":{"value":"black"}}},
{"data":{"values":[{}]},"mark":{"type":"rect","stroke":"#111","strokeWidth":1.5},"encoding":{"x":{"datum":0.163,"type":"quantitative"},"x2":{"datum":0.634},"y":{"datum":2431,"type":"quantitative"},"y2":{"datum":2638},"color":{"value":"white"}}},
{"data":{"values":[{}]},"mark":{"type":"text","fontSize":20,"align":"center","baseline":"middle"},"encoding":{"x":{"datum":0.3986,"type":"quantitative"},"y":{"datum":2535,"type":"quantitative"},"text":{"value":"Poisson’s ratio (v)"},"color":{"value":"black"}}}
]}
]
}
